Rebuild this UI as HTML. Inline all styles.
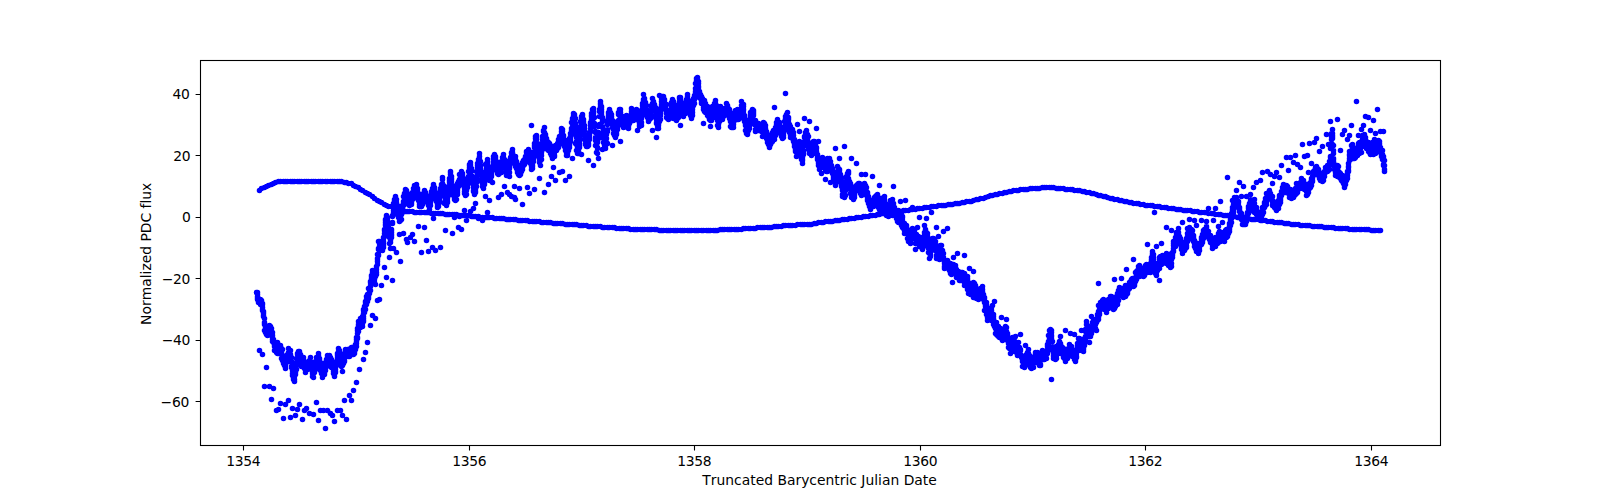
<!DOCTYPE html>
<html><head><meta charset="utf-8"><title>Light curve</title>
<style>html,body{margin:0;padding:0;background:#fff;overflow:hidden}svg{display:block}</style>
</head><body>
<svg width="1600" height="500" viewBox="0 0 1600 500">
<defs><clipPath id="c"><rect x="200.5" y="60.5" width="1240.0" height="385.0"/></clipPath></defs>
<rect x="0" y="0" width="1600" height="500" fill="#fff"/>
<g clip-path="url(#c)"><path d="M256.5 292.5h0M257.5 292.5h0M257.5 294.5h0M257.5 296.5h0M257.5 297.5h0M257.5 298.5h0M257.5 299.5h0M258.5 298.5h0M258.5 300.5h0M258.5 301.5h0M258.5 302.5h0M259.5 190.5h0M259.5 299.5h0M259.5 300.5h0M259.5 301.5h0M259.5 350.5h0M260.5 299.5h0M260.5 300.5h0M260.5 301.5h0M260.5 304.5h0M261.5 188.5h0M261.5 300.5h0M261.5 302.5h0M261.5 303.5h0M261.5 304.5h0M262.5 303.5h0M262.5 304.5h0M262.5 307.5h0M262.5 309.5h0M262.5 310.5h0M262.5 354.5h0M263.5 311.5h0M263.5 312.5h0M263.5 313.5h0M263.5 315.5h0M263.5 316.5h0M264.5 187.5h0M264.5 318.5h0M264.5 322.5h0M264.5 323.5h0M264.5 324.5h0M264.5 330.5h0M264.5 386.5h0M265.5 325.5h0M265.5 326.5h0M265.5 327.5h0M265.5 331.5h0M265.5 332.5h0M266.5 186.5h0M266.5 329.5h0M266.5 331.5h0M266.5 332.5h0M266.5 334.5h0M266.5 367.5h0M267.5 331.5h0M267.5 332.5h0M267.5 333.5h0M267.5 335.5h0M268.5 185.5h0M268.5 328.5h0M268.5 330.5h0M268.5 331.5h0M269.5 325.5h0M269.5 328.5h0M269.5 329.5h0M269.5 330.5h0M269.5 386.5h0M270.5 326.5h0M270.5 329.5h0M270.5 330.5h0M270.5 331.5h0M271.5 184.5h0M271.5 328.5h0M271.5 331.5h0M271.5 332.5h0M271.5 333.5h0M271.5 335.5h0M271.5 399.5h0M272.5 332.5h0M272.5 335.5h0M272.5 337.5h0M272.5 339.5h0M272.5 341.5h0M273.5 183.5h0M273.5 339.5h0M273.5 340.5h0M273.5 341.5h0M273.5 342.5h0M273.5 388.5h0M274.5 343.5h0M274.5 344.5h0M274.5 345.5h0M274.5 346.5h0M274.5 350.5h0M275.5 182.5h0M275.5 343.5h0M275.5 344.5h0M275.5 345.5h0M275.5 348.5h0M275.5 349.5h0M276.5 348.5h0M276.5 349.5h0M276.5 351.5h0M276.5 352.5h0M276.5 410.5h0M277.5 342.5h0M277.5 347.5h0M277.5 349.5h0M277.5 352.5h0M277.5 353.5h0M278.5 181.5h0M278.5 346.5h0M278.5 347.5h0M278.5 349.5h0M278.5 350.5h0M278.5 353.5h0M278.5 409.5h0M279.5 345.5h0M279.5 347.5h0M279.5 348.5h0M279.5 350.5h0M280.5 181.5h0M280.5 345.5h0M280.5 346.5h0M280.5 347.5h0M280.5 351.5h0M280.5 352.5h0M280.5 353.5h0M280.5 403.5h0M281.5 348.5h0M281.5 350.5h0M281.5 352.5h0M281.5 353.5h0M281.5 358.5h0M282.5 349.5h0M282.5 355.5h0M282.5 356.5h0M282.5 360.5h0M283.5 181.5h0M283.5 356.5h0M283.5 360.5h0M283.5 361.5h0M283.5 362.5h0M283.5 363.5h0M283.5 418.5h0M284.5 362.5h0M284.5 363.5h0M284.5 364.5h0M284.5 365.5h0M285.5 181.5h0M285.5 360.5h0M285.5 362.5h0M285.5 363.5h0M285.5 365.5h0M285.5 368.5h0M285.5 404.5h0M286.5 355.5h0M286.5 357.5h0M286.5 362.5h0M287.5 181.5h0M287.5 354.5h0M287.5 355.5h0M287.5 357.5h0M287.5 358.5h0M288.5 348.5h0M288.5 352.5h0M288.5 354.5h0M288.5 357.5h0M288.5 400.5h0M289.5 351.5h0M289.5 353.5h0M289.5 354.5h0M289.5 356.5h0M290.5 181.5h0M290.5 350.5h0M290.5 354.5h0M290.5 355.5h0M290.5 357.5h0M290.5 358.5h0M290.5 417.5h0M291.5 357.5h0M291.5 361.5h0M291.5 362.5h0M291.5 366.5h0M291.5 367.5h0M292.5 181.5h0M292.5 366.5h0M292.5 368.5h0M292.5 369.5h0M292.5 370.5h0M292.5 373.5h0M292.5 375.5h0M292.5 408.5h0M293.5 372.5h0M293.5 373.5h0M293.5 375.5h0M293.5 376.5h0M293.5 377.5h0M293.5 378.5h0M293.5 379.5h0M294.5 181.5h0M294.5 374.5h0M294.5 376.5h0M294.5 379.5h0M294.5 381.5h0M295.5 368.5h0M295.5 370.5h0M295.5 372.5h0M295.5 374.5h0M295.5 415.5h0M296.5 358.5h0M296.5 362.5h0M296.5 364.5h0M296.5 365.5h0M296.5 369.5h0M297.5 181.5h0M297.5 353.5h0M297.5 354.5h0M297.5 358.5h0M297.5 409.5h0M298.5 351.5h0M298.5 352.5h0M298.5 354.5h0M298.5 355.5h0M298.5 356.5h0M298.5 358.5h0M299.5 181.5h0M299.5 351.5h0M299.5 352.5h0M299.5 353.5h0M299.5 357.5h0M299.5 404.5h0M300.5 354.5h0M300.5 356.5h0M300.5 357.5h0M300.5 360.5h0M300.5 361.5h0M301.5 181.5h0M301.5 359.5h0M301.5 360.5h0M301.5 361.5h0M301.5 362.5h0M301.5 363.5h0M301.5 364.5h0M301.5 366.5h0M302.5 363.5h0M302.5 364.5h0M302.5 365.5h0M302.5 366.5h0M302.5 419.5h0M303.5 357.5h0M303.5 359.5h0M303.5 361.5h0M303.5 362.5h0M303.5 364.5h0M303.5 366.5h0M304.5 181.5h0M304.5 361.5h0M304.5 362.5h0M304.5 365.5h0M304.5 367.5h0M304.5 368.5h0M304.5 410.5h0M305.5 362.5h0M305.5 363.5h0M305.5 368.5h0M305.5 372.5h0M306.5 181.5h0M306.5 362.5h0M306.5 364.5h0M306.5 365.5h0M306.5 366.5h0M306.5 368.5h0M306.5 408.5h0M307.5 363.5h0M307.5 364.5h0M307.5 365.5h0M307.5 368.5h0M307.5 369.5h0M308.5 181.5h0M308.5 362.5h0M308.5 364.5h0M308.5 365.5h0M309.5 360.5h0M309.5 361.5h0M309.5 363.5h0M309.5 364.5h0M309.5 413.5h0M310.5 357.5h0M310.5 361.5h0M310.5 362.5h0M310.5 364.5h0M310.5 365.5h0M311.5 181.5h0M311.5 363.5h0M311.5 364.5h0M311.5 365.5h0M311.5 368.5h0M311.5 369.5h0M312.5 366.5h0M312.5 372.5h0M312.5 373.5h0M312.5 376.5h0M313.5 181.5h0M313.5 369.5h0M313.5 371.5h0M313.5 372.5h0M313.5 373.5h0M313.5 377.5h0M313.5 414.5h0M314.5 366.5h0M314.5 367.5h0M314.5 368.5h0M314.5 370.5h0M314.5 372.5h0M315.5 181.5h0M315.5 361.5h0M315.5 363.5h0M315.5 364.5h0M315.5 365.5h0M315.5 366.5h0M316.5 357.5h0M316.5 360.5h0M316.5 361.5h0M316.5 363.5h0M316.5 364.5h0M316.5 402.5h0M317.5 357.5h0M317.5 359.5h0M317.5 361.5h0M318.5 181.5h0M318.5 353.5h0M318.5 355.5h0M318.5 356.5h0M318.5 357.5h0M318.5 358.5h0M318.5 420.5h0M319.5 358.5h0M319.5 359.5h0M319.5 362.5h0M319.5 363.5h0M319.5 364.5h0M319.5 369.5h0M320.5 181.5h0M320.5 362.5h0M320.5 363.5h0M320.5 364.5h0M320.5 366.5h0M320.5 367.5h0M320.5 370.5h0M320.5 410.5h0M321.5 365.5h0M321.5 368.5h0M321.5 370.5h0M321.5 372.5h0M321.5 373.5h0M322.5 181.5h0M322.5 370.5h0M322.5 371.5h0M322.5 372.5h0M322.5 373.5h0M322.5 377.5h0M323.5 366.5h0M323.5 367.5h0M323.5 369.5h0M323.5 370.5h0M323.5 410.5h0M324.5 365.5h0M324.5 366.5h0M324.5 367.5h0M324.5 371.5h0M324.5 373.5h0M324.5 374.5h0M325.5 181.5h0M325.5 362.5h0M325.5 363.5h0M325.5 364.5h0M325.5 367.5h0M325.5 368.5h0M325.5 370.5h0M325.5 428.5h0M326.5 359.5h0M326.5 361.5h0M326.5 362.5h0M326.5 364.5h0M327.5 181.5h0M327.5 355.5h0M327.5 357.5h0M327.5 362.5h0M327.5 363.5h0M327.5 365.5h0M327.5 410.5h0M328.5 358.5h0M328.5 359.5h0M328.5 360.5h0M328.5 362.5h0M328.5 363.5h0M329.5 355.5h0M329.5 358.5h0M329.5 361.5h0M329.5 362.5h0M329.5 363.5h0M330.5 181.5h0M330.5 357.5h0M330.5 358.5h0M330.5 360.5h0M330.5 361.5h0M330.5 365.5h0M330.5 366.5h0M330.5 413.5h0M331.5 359.5h0M331.5 362.5h0M331.5 363.5h0M331.5 364.5h0M331.5 365.5h0M331.5 366.5h0M331.5 367.5h0M332.5 181.5h0M332.5 362.5h0M332.5 364.5h0M332.5 365.5h0M332.5 366.5h0M332.5 367.5h0M332.5 415.5h0M333.5 366.5h0M333.5 367.5h0M333.5 370.5h0M333.5 371.5h0M333.5 373.5h0M334.5 181.5h0M334.5 366.5h0M334.5 368.5h0M334.5 370.5h0M334.5 371.5h0M334.5 374.5h0M334.5 376.5h0M334.5 421.5h0M335.5 365.5h0M335.5 367.5h0M335.5 369.5h0M335.5 371.5h0M335.5 372.5h0M336.5 361.5h0M336.5 363.5h0M336.5 365.5h0M337.5 181.5h0M337.5 353.5h0M337.5 354.5h0M337.5 355.5h0M337.5 357.5h0M337.5 358.5h0M337.5 410.5h0M338.5 348.5h0M338.5 351.5h0M338.5 352.5h0M338.5 355.5h0M338.5 356.5h0M338.5 361.5h0M339.5 181.5h0M339.5 350.5h0M339.5 355.5h0M339.5 356.5h0M339.5 357.5h0M340.5 353.5h0M340.5 356.5h0M340.5 358.5h0M340.5 361.5h0M340.5 410.5h0M341.5 181.5h0M341.5 358.5h0M341.5 360.5h0M341.5 362.5h0M341.5 363.5h0M341.5 364.5h0M341.5 366.5h0M342.5 359.5h0M342.5 360.5h0M342.5 361.5h0M342.5 362.5h0M342.5 365.5h0M342.5 371.5h0M342.5 415.5h0M343.5 355.5h0M343.5 359.5h0M343.5 360.5h0M343.5 363.5h0M344.5 182.5h0M344.5 355.5h0M344.5 356.5h0M344.5 358.5h0M344.5 360.5h0M344.5 361.5h0M344.5 400.5h0M345.5 349.5h0M345.5 351.5h0M345.5 352.5h0M345.5 354.5h0M345.5 355.5h0M346.5 182.5h0M346.5 350.5h0M346.5 351.5h0M346.5 352.5h0M346.5 353.5h0M346.5 354.5h0M346.5 355.5h0M346.5 419.5h0M347.5 349.5h0M347.5 350.5h0M347.5 351.5h0M347.5 352.5h0M347.5 355.5h0M348.5 183.5h0M348.5 351.5h0M348.5 352.5h0M348.5 353.5h0M348.5 354.5h0M348.5 356.5h0M349.5 351.5h0M349.5 353.5h0M349.5 354.5h0M349.5 356.5h0M349.5 395.5h0M350.5 348.5h0M350.5 350.5h0M350.5 351.5h0M350.5 352.5h0M351.5 183.5h0M351.5 347.5h0M351.5 349.5h0M351.5 351.5h0M351.5 352.5h0M351.5 353.5h0M351.5 354.5h0M351.5 400.5h0M352.5 347.5h0M352.5 348.5h0M352.5 349.5h0M352.5 350.5h0M352.5 352.5h0M352.5 354.5h0M353.5 185.5h0M353.5 349.5h0M353.5 351.5h0M353.5 353.5h0M353.5 354.5h0M353.5 390.5h0M354.5 349.5h0M354.5 351.5h0M354.5 352.5h0M354.5 353.5h0M355.5 186.5h0M355.5 344.5h0M355.5 346.5h0M355.5 348.5h0M355.5 349.5h0M356.5 337.5h0M356.5 339.5h0M356.5 341.5h0M356.5 343.5h0M356.5 346.5h0M356.5 382.5h0M357.5 328.5h0M357.5 330.5h0M357.5 333.5h0M357.5 337.5h0M357.5 338.5h0M358.5 187.5h0M358.5 321.5h0M358.5 324.5h0M358.5 325.5h0M358.5 326.5h0M358.5 329.5h0M358.5 331.5h0M359.5 321.5h0M359.5 322.5h0M359.5 323.5h0M359.5 324.5h0M359.5 327.5h0M359.5 369.5h0M360.5 189.5h0M360.5 318.5h0M360.5 321.5h0M360.5 323.5h0M360.5 325.5h0M360.5 327.5h0M361.5 320.5h0M361.5 322.5h0M361.5 323.5h0M362.5 190.5h0M362.5 316.5h0M362.5 318.5h0M362.5 319.5h0M362.5 320.5h0M362.5 323.5h0M362.5 326.5h0M363.5 309.5h0M363.5 310.5h0M363.5 313.5h0M363.5 316.5h0M363.5 318.5h0M363.5 320.5h0M363.5 321.5h0M363.5 359.5h0M364.5 306.5h0M364.5 308.5h0M364.5 309.5h0M364.5 311.5h0M364.5 312.5h0M365.5 192.5h0M365.5 301.5h0M365.5 302.5h0M365.5 304.5h0M365.5 305.5h0M365.5 309.5h0M365.5 352.5h0M366.5 296.5h0M366.5 299.5h0M366.5 300.5h0M366.5 301.5h0M366.5 302.5h0M366.5 303.5h0M366.5 304.5h0M367.5 193.5h0M367.5 294.5h0M367.5 298.5h0M367.5 299.5h0M367.5 300.5h0M367.5 301.5h0M367.5 342.5h0M368.5 288.5h0M368.5 294.5h0M368.5 295.5h0M368.5 296.5h0M368.5 297.5h0M368.5 298.5h0M369.5 194.5h0M369.5 288.5h0M369.5 289.5h0M369.5 290.5h0M369.5 291.5h0M369.5 293.5h0M370.5 281.5h0M370.5 282.5h0M370.5 285.5h0M370.5 286.5h0M370.5 290.5h0M370.5 325.5h0M371.5 275.5h0M371.5 276.5h0M371.5 278.5h0M371.5 279.5h0M371.5 280.5h0M372.5 196.5h0M372.5 270.5h0M372.5 272.5h0M372.5 275.5h0M372.5 276.5h0M372.5 279.5h0M372.5 315.5h0M373.5 276.5h0M373.5 277.5h0M373.5 279.5h0M373.5 280.5h0M373.5 281.5h0M374.5 198.5h0M374.5 275.5h0M374.5 276.5h0M374.5 278.5h0M374.5 279.5h0M374.5 282.5h0M374.5 283.5h0M375.5 272.5h0M375.5 273.5h0M375.5 274.5h0M375.5 276.5h0M375.5 284.5h0M375.5 318.5h0M376.5 266.5h0M376.5 267.5h0M376.5 269.5h0M376.5 272.5h0M376.5 274.5h0M377.5 200.5h0M377.5 254.5h0M377.5 258.5h0M377.5 259.5h0M377.5 261.5h0M377.5 264.5h0M377.5 300.5h0M378.5 241.5h0M378.5 248.5h0M378.5 249.5h0M378.5 254.5h0M378.5 255.5h0M379.5 201.5h0M379.5 241.5h0M379.5 243.5h0M379.5 246.5h0M379.5 248.5h0M379.5 249.5h0M379.5 250.5h0M379.5 299.5h0M380.5 242.5h0M380.5 244.5h0M380.5 245.5h0M380.5 246.5h0M380.5 248.5h0M381.5 202.5h0M381.5 242.5h0M381.5 247.5h0M381.5 248.5h0M381.5 249.5h0M381.5 285.5h0M382.5 244.5h0M382.5 245.5h0M382.5 247.5h0M382.5 248.5h0M382.5 250.5h0M383.5 237.5h0M383.5 238.5h0M383.5 241.5h0M383.5 243.5h0M383.5 245.5h0M383.5 247.5h0M384.5 204.5h0M384.5 229.5h0M384.5 230.5h0M384.5 233.5h0M384.5 267.5h0M385.5 219.5h0M385.5 220.5h0M385.5 222.5h0M385.5 224.5h0M385.5 225.5h0M386.5 205.5h0M386.5 215.5h0M386.5 216.5h0M386.5 217.5h0M386.5 218.5h0M386.5 221.5h0M386.5 277.5h0M387.5 217.5h0M387.5 220.5h0M387.5 223.5h0M387.5 225.5h0M388.5 206.5h0M388.5 227.5h0M388.5 228.5h0M388.5 229.5h0M388.5 232.5h0M388.5 236.5h0M389.5 232.5h0M389.5 236.5h0M389.5 237.5h0M389.5 243.5h0M389.5 257.5h0M390.5 234.5h0M390.5 238.5h0M390.5 239.5h0M390.5 240.5h0M390.5 242.5h0M390.5 248.5h0M391.5 206.5h0M391.5 229.5h0M391.5 230.5h0M391.5 232.5h0M391.5 234.5h0M391.5 235.5h0M391.5 237.5h0M392.5 215.5h0M392.5 216.5h0M392.5 222.5h0M392.5 223.5h0M392.5 280.5h0M393.5 203.5h0M393.5 207.5h0M393.5 208.5h0M393.5 210.5h0M393.5 212.5h0M393.5 213.5h0M393.5 214.5h0M393.5 248.5h0M394.5 199.5h0M394.5 200.5h0M394.5 203.5h0M394.5 205.5h0M395.5 196.5h0M395.5 198.5h0M395.5 199.5h0M395.5 201.5h0M395.5 208.5h0M396.5 199.5h0M396.5 202.5h0M396.5 203.5h0M396.5 204.5h0M396.5 206.5h0M396.5 209.5h0M396.5 252.5h0M397.5 205.5h0M397.5 207.5h0M397.5 208.5h0M397.5 209.5h0M397.5 213.5h0M397.5 214.5h0M398.5 209.5h0M398.5 211.5h0M398.5 213.5h0M398.5 214.5h0M398.5 215.5h0M398.5 217.5h0M399.5 214.5h0M399.5 215.5h0M399.5 216.5h0M399.5 217.5h0M399.5 221.5h0M399.5 234.5h0M400.5 210.5h0M400.5 214.5h0M400.5 216.5h0M400.5 218.5h0M400.5 219.5h0M400.5 220.5h0M400.5 261.5h0M401.5 208.5h0M401.5 210.5h0M401.5 211.5h0M401.5 213.5h0M401.5 214.5h0M401.5 219.5h0M402.5 205.5h0M402.5 206.5h0M402.5 207.5h0M402.5 208.5h0M402.5 211.5h0M402.5 212.5h0M403.5 196.5h0M403.5 201.5h0M403.5 202.5h0M403.5 203.5h0M403.5 205.5h0M403.5 233.5h0M404.5 193.5h0M404.5 194.5h0M404.5 195.5h0M404.5 197.5h0M404.5 198.5h0M404.5 201.5h0M405.5 189.5h0M405.5 191.5h0M405.5 193.5h0M405.5 194.5h0M405.5 211.5h0M406.5 190.5h0M406.5 194.5h0M406.5 195.5h0M406.5 196.5h0M406.5 197.5h0M406.5 198.5h0M406.5 239.5h0M407.5 193.5h0M407.5 194.5h0M407.5 195.5h0M407.5 197.5h0M407.5 199.5h0M407.5 211.5h0M407.5 242.5h0M408.5 195.5h0M408.5 196.5h0M408.5 197.5h0M408.5 200.5h0M408.5 204.5h0M409.5 198.5h0M409.5 199.5h0M409.5 202.5h0M409.5 203.5h0M409.5 205.5h0M409.5 211.5h0M410.5 201.5h0M410.5 202.5h0M410.5 203.5h0M410.5 204.5h0M410.5 237.5h0M411.5 198.5h0M411.5 199.5h0M411.5 202.5h0M411.5 203.5h0M411.5 204.5h0M412.5 192.5h0M412.5 193.5h0M412.5 197.5h0M412.5 198.5h0M412.5 199.5h0M412.5 211.5h0M412.5 234.5h0M413.5 188.5h0M413.5 194.5h0M413.5 195.5h0M413.5 196.5h0M413.5 198.5h0M414.5 185.5h0M414.5 187.5h0M414.5 188.5h0M414.5 189.5h0M414.5 192.5h0M414.5 193.5h0M414.5 194.5h0M414.5 212.5h0M414.5 241.5h0M415.5 185.5h0M415.5 187.5h0M415.5 188.5h0M415.5 189.5h0M416.5 184.5h0M416.5 186.5h0M416.5 187.5h0M416.5 190.5h0M416.5 191.5h0M416.5 194.5h0M416.5 212.5h0M417.5 188.5h0M417.5 189.5h0M417.5 191.5h0M417.5 192.5h0M417.5 193.5h0M417.5 194.5h0M417.5 196.5h0M418.5 193.5h0M418.5 194.5h0M418.5 197.5h0M418.5 198.5h0M418.5 200.5h0M418.5 226.5h0M419.5 199.5h0M419.5 200.5h0M419.5 201.5h0M419.5 202.5h0M419.5 204.5h0M419.5 206.5h0M419.5 212.5h0M420.5 202.5h0M420.5 203.5h0M420.5 204.5h0M420.5 205.5h0M421.5 201.5h0M421.5 205.5h0M421.5 206.5h0M421.5 212.5h0M421.5 252.5h0M422.5 195.5h0M422.5 197.5h0M422.5 198.5h0M422.5 200.5h0M422.5 204.5h0M423.5 193.5h0M423.5 195.5h0M423.5 198.5h0M423.5 199.5h0M424.5 190.5h0M424.5 192.5h0M424.5 193.5h0M424.5 195.5h0M424.5 212.5h0M424.5 227.5h0M425.5 192.5h0M425.5 193.5h0M425.5 194.5h0M425.5 197.5h0M425.5 201.5h0M426.5 195.5h0M426.5 197.5h0M426.5 198.5h0M426.5 199.5h0M426.5 212.5h0M426.5 240.5h0M427.5 196.5h0M427.5 197.5h0M427.5 198.5h0M427.5 199.5h0M427.5 202.5h0M428.5 199.5h0M428.5 200.5h0M428.5 201.5h0M428.5 202.5h0M428.5 203.5h0M428.5 205.5h0M428.5 212.5h0M428.5 251.5h0M429.5 199.5h0M429.5 200.5h0M429.5 201.5h0M429.5 202.5h0M429.5 203.5h0M429.5 209.5h0M430.5 195.5h0M430.5 197.5h0M430.5 198.5h0M430.5 199.5h0M430.5 202.5h0M430.5 205.5h0M431.5 191.5h0M431.5 192.5h0M431.5 193.5h0M431.5 195.5h0M431.5 198.5h0M431.5 199.5h0M431.5 213.5h0M432.5 188.5h0M432.5 190.5h0M432.5 191.5h0M432.5 192.5h0M432.5 195.5h0M432.5 247.5h0M433.5 184.5h0M433.5 185.5h0M433.5 186.5h0M433.5 192.5h0M433.5 213.5h0M433.5 218.5h0M434.5 187.5h0M434.5 189.5h0M434.5 190.5h0M434.5 194.5h0M435.5 192.5h0M435.5 193.5h0M435.5 196.5h0M435.5 213.5h0M435.5 250.5h0M436.5 196.5h0M436.5 197.5h0M436.5 199.5h0M436.5 201.5h0M437.5 202.5h0M437.5 204.5h0M437.5 206.5h0M437.5 207.5h0M438.5 198.5h0M438.5 200.5h0M438.5 202.5h0M438.5 204.5h0M438.5 206.5h0M438.5 213.5h0M439.5 195.5h0M439.5 196.5h0M439.5 198.5h0M439.5 199.5h0M439.5 200.5h0M439.5 202.5h0M440.5 188.5h0M440.5 189.5h0M440.5 190.5h0M440.5 191.5h0M440.5 192.5h0M440.5 194.5h0M440.5 213.5h0M440.5 247.5h0M441.5 184.5h0M441.5 185.5h0M441.5 187.5h0M441.5 190.5h0M441.5 192.5h0M442.5 177.5h0M442.5 179.5h0M442.5 183.5h0M442.5 186.5h0M442.5 187.5h0M442.5 188.5h0M442.5 213.5h0M443.5 185.5h0M443.5 186.5h0M443.5 187.5h0M443.5 188.5h0M443.5 189.5h0M444.5 190.5h0M444.5 191.5h0M444.5 193.5h0M444.5 196.5h0M444.5 202.5h0M444.5 203.5h0M445.5 195.5h0M445.5 197.5h0M445.5 198.5h0M445.5 200.5h0M445.5 203.5h0M445.5 214.5h0M445.5 230.5h0M446.5 200.5h0M446.5 201.5h0M446.5 202.5h0M446.5 204.5h0M446.5 205.5h0M447.5 194.5h0M447.5 196.5h0M447.5 197.5h0M447.5 198.5h0M447.5 201.5h0M447.5 202.5h0M447.5 214.5h0M448.5 186.5h0M448.5 189.5h0M448.5 190.5h0M448.5 193.5h0M448.5 195.5h0M449.5 178.5h0M449.5 180.5h0M449.5 181.5h0M449.5 182.5h0M449.5 214.5h0M450.5 171.5h0M450.5 172.5h0M450.5 174.5h0M450.5 177.5h0M450.5 178.5h0M451.5 176.5h0M451.5 178.5h0M451.5 179.5h0M451.5 181.5h0M451.5 185.5h0M452.5 185.5h0M452.5 186.5h0M452.5 187.5h0M452.5 189.5h0M452.5 190.5h0M452.5 191.5h0M452.5 214.5h0M452.5 233.5h0M453.5 188.5h0M453.5 190.5h0M453.5 191.5h0M453.5 194.5h0M453.5 195.5h0M454.5 193.5h0M454.5 196.5h0M454.5 197.5h0M454.5 198.5h0M454.5 199.5h0M454.5 214.5h0M454.5 217.5h0M455.5 191.5h0M455.5 196.5h0M455.5 197.5h0M455.5 198.5h0M455.5 199.5h0M455.5 200.5h0M456.5 188.5h0M456.5 190.5h0M456.5 191.5h0M456.5 192.5h0M456.5 194.5h0M456.5 199.5h0M456.5 214.5h0M457.5 183.5h0M457.5 186.5h0M457.5 189.5h0M457.5 190.5h0M457.5 192.5h0M457.5 194.5h0M458.5 181.5h0M458.5 183.5h0M458.5 184.5h0M458.5 185.5h0M458.5 186.5h0M458.5 227.5h0M459.5 174.5h0M459.5 179.5h0M459.5 180.5h0M459.5 181.5h0M459.5 182.5h0M459.5 215.5h0M459.5 216.5h0M460.5 174.5h0M460.5 176.5h0M460.5 177.5h0M460.5 178.5h0M460.5 179.5h0M460.5 180.5h0M460.5 181.5h0M461.5 171.5h0M461.5 175.5h0M461.5 176.5h0M461.5 215.5h0M461.5 229.5h0M462.5 173.5h0M462.5 174.5h0M462.5 176.5h0M462.5 180.5h0M462.5 182.5h0M462.5 184.5h0M463.5 178.5h0M463.5 179.5h0M463.5 183.5h0M463.5 184.5h0M463.5 185.5h0M463.5 215.5h0M464.5 186.5h0M464.5 187.5h0M464.5 188.5h0M464.5 191.5h0M464.5 193.5h0M464.5 210.5h0M465.5 187.5h0M465.5 188.5h0M465.5 190.5h0M465.5 192.5h0M465.5 195.5h0M466.5 185.5h0M466.5 186.5h0M466.5 189.5h0M466.5 190.5h0M466.5 194.5h0M466.5 215.5h0M466.5 220.5h0M467.5 179.5h0M467.5 181.5h0M467.5 183.5h0M467.5 185.5h0M467.5 187.5h0M468.5 171.5h0M468.5 176.5h0M468.5 177.5h0M468.5 178.5h0M468.5 215.5h0M469.5 164.5h0M469.5 165.5h0M469.5 167.5h0M469.5 168.5h0M469.5 170.5h0M469.5 172.5h0M470.5 162.5h0M470.5 164.5h0M470.5 165.5h0M470.5 167.5h0M470.5 211.5h0M471.5 168.5h0M471.5 169.5h0M471.5 170.5h0M471.5 171.5h0M471.5 177.5h0M471.5 216.5h0M472.5 176.5h0M472.5 177.5h0M472.5 178.5h0M472.5 181.5h0M472.5 183.5h0M473.5 182.5h0M473.5 183.5h0M473.5 187.5h0M473.5 190.5h0M473.5 191.5h0M473.5 208.5h0M473.5 216.5h0M474.5 189.5h0M474.5 190.5h0M474.5 191.5h0M474.5 192.5h0M474.5 193.5h0M474.5 194.5h0M475.5 185.5h0M475.5 186.5h0M475.5 188.5h0M475.5 189.5h0M475.5 191.5h0M475.5 192.5h0M475.5 203.5h0M475.5 216.5h0M476.5 171.5h0M476.5 178.5h0M476.5 181.5h0M476.5 182.5h0M476.5 186.5h0M477.5 163.5h0M477.5 165.5h0M477.5 167.5h0M477.5 171.5h0M477.5 173.5h0M477.5 175.5h0M478.5 159.5h0M478.5 160.5h0M478.5 161.5h0M478.5 165.5h0M478.5 216.5h0M478.5 218.5h0M479.5 153.5h0M479.5 156.5h0M479.5 159.5h0M479.5 160.5h0M479.5 162.5h0M479.5 165.5h0M480.5 161.5h0M480.5 165.5h0M480.5 168.5h0M480.5 170.5h0M480.5 171.5h0M480.5 217.5h0M481.5 172.5h0M481.5 173.5h0M481.5 174.5h0M481.5 179.5h0M481.5 181.5h0M482.5 176.5h0M482.5 178.5h0M482.5 179.5h0M482.5 181.5h0M482.5 183.5h0M482.5 186.5h0M482.5 217.5h0M482.5 220.5h0M483.5 180.5h0M483.5 183.5h0M483.5 185.5h0M483.5 188.5h0M484.5 174.5h0M484.5 176.5h0M484.5 180.5h0M484.5 182.5h0M484.5 183.5h0M484.5 184.5h0M485.5 164.5h0M485.5 171.5h0M485.5 172.5h0M485.5 173.5h0M485.5 176.5h0M485.5 179.5h0M485.5 196.5h0M485.5 217.5h0M486.5 163.5h0M486.5 165.5h0M486.5 166.5h0M486.5 168.5h0M486.5 170.5h0M487.5 159.5h0M487.5 161.5h0M487.5 162.5h0M487.5 164.5h0M487.5 165.5h0M487.5 212.5h0M487.5 217.5h0M488.5 166.5h0M488.5 168.5h0M488.5 169.5h0M488.5 171.5h0M488.5 172.5h0M489.5 168.5h0M489.5 170.5h0M489.5 174.5h0M489.5 175.5h0M489.5 180.5h0M489.5 200.5h0M489.5 217.5h0M490.5 173.5h0M490.5 174.5h0M490.5 176.5h0M490.5 177.5h0M490.5 179.5h0M491.5 169.5h0M491.5 170.5h0M491.5 171.5h0M491.5 172.5h0M491.5 175.5h0M491.5 176.5h0M492.5 166.5h0M492.5 168.5h0M492.5 170.5h0M492.5 182.5h0M492.5 217.5h0M493.5 156.5h0M493.5 158.5h0M493.5 161.5h0M493.5 162.5h0M493.5 163.5h0M494.5 154.5h0M494.5 158.5h0M494.5 159.5h0M494.5 160.5h0M494.5 162.5h0M494.5 218.5h0M495.5 156.5h0M495.5 157.5h0M495.5 158.5h0M495.5 160.5h0M495.5 161.5h0M496.5 161.5h0M496.5 162.5h0M496.5 163.5h0M496.5 165.5h0M496.5 218.5h0M497.5 163.5h0M497.5 167.5h0M497.5 169.5h0M497.5 171.5h0M497.5 173.5h0M498.5 168.5h0M498.5 170.5h0M498.5 172.5h0M498.5 173.5h0M498.5 174.5h0M498.5 197.5h0M499.5 171.5h0M499.5 172.5h0M499.5 173.5h0M499.5 218.5h0M500.5 163.5h0M500.5 168.5h0M500.5 169.5h0M500.5 171.5h0M501.5 161.5h0M501.5 162.5h0M501.5 163.5h0M501.5 167.5h0M501.5 168.5h0M501.5 172.5h0M501.5 194.5h0M501.5 218.5h0M502.5 157.5h0M502.5 160.5h0M502.5 162.5h0M502.5 163.5h0M503.5 154.5h0M503.5 157.5h0M503.5 159.5h0M503.5 162.5h0M503.5 218.5h0M504.5 159.5h0M504.5 160.5h0M504.5 161.5h0M504.5 162.5h0M504.5 186.5h0M505.5 160.5h0M505.5 162.5h0M505.5 163.5h0M505.5 165.5h0M505.5 166.5h0M506.5 166.5h0M506.5 170.5h0M506.5 171.5h0M506.5 172.5h0M506.5 175.5h0M506.5 219.5h0M507.5 173.5h0M507.5 174.5h0M507.5 175.5h0M507.5 192.5h0M508.5 170.5h0M508.5 171.5h0M508.5 173.5h0M508.5 174.5h0M508.5 175.5h0M508.5 219.5h0M509.5 163.5h0M509.5 166.5h0M509.5 167.5h0M509.5 168.5h0M509.5 172.5h0M509.5 176.5h0M509.5 194.5h0M510.5 157.5h0M510.5 159.5h0M510.5 160.5h0M510.5 161.5h0M510.5 163.5h0M510.5 219.5h0M511.5 152.5h0M511.5 153.5h0M511.5 155.5h0M511.5 156.5h0M511.5 196.5h0M512.5 149.5h0M512.5 152.5h0M512.5 153.5h0M512.5 154.5h0M512.5 155.5h0M512.5 156.5h0M513.5 155.5h0M513.5 156.5h0M513.5 157.5h0M513.5 158.5h0M513.5 219.5h0M514.5 157.5h0M514.5 159.5h0M514.5 160.5h0M514.5 163.5h0M514.5 186.5h0M514.5 197.5h0M515.5 156.5h0M515.5 159.5h0M515.5 160.5h0M515.5 162.5h0M515.5 163.5h0M515.5 166.5h0M515.5 199.5h0M515.5 219.5h0M516.5 161.5h0M516.5 164.5h0M516.5 165.5h0M516.5 166.5h0M516.5 168.5h0M517.5 165.5h0M517.5 166.5h0M517.5 168.5h0M517.5 169.5h0M517.5 171.5h0M517.5 172.5h0M518.5 165.5h0M518.5 171.5h0M518.5 173.5h0M518.5 174.5h0M518.5 220.5h0M519.5 170.5h0M519.5 171.5h0M519.5 173.5h0M519.5 175.5h0M519.5 188.5h0M520.5 169.5h0M520.5 170.5h0M520.5 171.5h0M520.5 172.5h0M520.5 173.5h0M520.5 174.5h0M520.5 220.5h0M521.5 164.5h0M521.5 165.5h0M521.5 166.5h0M521.5 168.5h0M521.5 169.5h0M521.5 171.5h0M522.5 162.5h0M522.5 163.5h0M522.5 165.5h0M522.5 167.5h0M522.5 169.5h0M522.5 204.5h0M522.5 220.5h0M523.5 160.5h0M523.5 162.5h0M523.5 163.5h0M523.5 165.5h0M524.5 159.5h0M524.5 160.5h0M524.5 162.5h0M524.5 164.5h0M525.5 156.5h0M525.5 157.5h0M525.5 158.5h0M525.5 161.5h0M525.5 162.5h0M525.5 220.5h0M526.5 151.5h0M526.5 152.5h0M526.5 155.5h0M526.5 158.5h0M526.5 161.5h0M527.5 151.5h0M527.5 152.5h0M527.5 153.5h0M527.5 156.5h0M527.5 187.5h0M527.5 220.5h0M528.5 149.5h0M528.5 151.5h0M528.5 152.5h0M528.5 153.5h0M529.5 151.5h0M529.5 154.5h0M529.5 155.5h0M529.5 157.5h0M529.5 158.5h0M529.5 193.5h0M529.5 221.5h0M530.5 157.5h0M530.5 159.5h0M530.5 160.5h0M530.5 161.5h0M530.5 162.5h0M530.5 163.5h0M531.5 125.5h0M531.5 163.5h0M531.5 164.5h0M531.5 166.5h0M531.5 169.5h0M532.5 162.5h0M532.5 163.5h0M532.5 165.5h0M532.5 166.5h0M532.5 168.5h0M532.5 221.5h0M533.5 152.5h0M533.5 154.5h0M533.5 155.5h0M533.5 157.5h0M533.5 158.5h0M533.5 161.5h0M534.5 143.5h0M534.5 145.5h0M534.5 146.5h0M534.5 147.5h0M534.5 151.5h0M534.5 153.5h0M534.5 189.5h0M534.5 221.5h0M535.5 136.5h0M535.5 138.5h0M535.5 141.5h0M535.5 142.5h0M535.5 144.5h0M536.5 135.5h0M536.5 137.5h0M536.5 138.5h0M536.5 139.5h0M536.5 143.5h0M536.5 144.5h0M536.5 221.5h0M537.5 143.5h0M537.5 144.5h0M537.5 145.5h0M537.5 146.5h0M537.5 150.5h0M538.5 145.5h0M538.5 148.5h0M538.5 151.5h0M538.5 154.5h0M538.5 156.5h0M539.5 153.5h0M539.5 157.5h0M539.5 158.5h0M539.5 159.5h0M539.5 162.5h0M539.5 178.5h0M539.5 221.5h0M540.5 155.5h0M540.5 157.5h0M540.5 158.5h0M540.5 159.5h0M540.5 160.5h0M540.5 165.5h0M541.5 145.5h0M541.5 150.5h0M541.5 151.5h0M541.5 152.5h0M541.5 155.5h0M541.5 159.5h0M541.5 222.5h0M542.5 136.5h0M542.5 139.5h0M542.5 142.5h0M542.5 143.5h0M542.5 144.5h0M542.5 146.5h0M542.5 149.5h0M543.5 130.5h0M543.5 131.5h0M543.5 137.5h0M543.5 139.5h0M543.5 222.5h0M544.5 127.5h0M544.5 132.5h0M544.5 133.5h0M544.5 134.5h0M544.5 136.5h0M544.5 192.5h0M545.5 134.5h0M545.5 135.5h0M545.5 136.5h0M545.5 138.5h0M545.5 139.5h0M545.5 142.5h0M546.5 138.5h0M546.5 141.5h0M546.5 146.5h0M546.5 222.5h0M547.5 141.5h0M547.5 143.5h0M547.5 145.5h0M547.5 146.5h0M547.5 148.5h0M547.5 149.5h0M548.5 142.5h0M548.5 144.5h0M548.5 145.5h0M548.5 150.5h0M548.5 184.5h0M548.5 222.5h0M549.5 143.5h0M549.5 144.5h0M549.5 145.5h0M549.5 148.5h0M549.5 150.5h0M550.5 145.5h0M550.5 146.5h0M550.5 147.5h0M550.5 148.5h0M550.5 150.5h0M550.5 153.5h0M550.5 222.5h0M551.5 147.5h0M551.5 148.5h0M551.5 150.5h0M551.5 152.5h0M551.5 155.5h0M551.5 176.5h0M552.5 150.5h0M552.5 151.5h0M552.5 152.5h0M552.5 153.5h0M552.5 158.5h0M553.5 148.5h0M553.5 149.5h0M553.5 150.5h0M553.5 152.5h0M553.5 154.5h0M553.5 167.5h0M553.5 223.5h0M554.5 149.5h0M554.5 150.5h0M554.5 152.5h0M554.5 155.5h0M554.5 156.5h0M555.5 145.5h0M555.5 146.5h0M555.5 147.5h0M555.5 148.5h0M555.5 149.5h0M555.5 150.5h0M555.5 180.5h0M555.5 223.5h0M556.5 146.5h0M556.5 147.5h0M556.5 149.5h0M556.5 150.5h0M557.5 143.5h0M557.5 145.5h0M557.5 147.5h0M557.5 148.5h0M557.5 223.5h0M558.5 139.5h0M558.5 141.5h0M558.5 143.5h0M558.5 144.5h0M558.5 145.5h0M558.5 147.5h0M559.5 136.5h0M559.5 137.5h0M559.5 143.5h0M559.5 144.5h0M559.5 172.5h0M560.5 136.5h0M560.5 137.5h0M560.5 138.5h0M560.5 139.5h0M560.5 223.5h0M561.5 128.5h0M561.5 131.5h0M561.5 133.5h0M561.5 134.5h0M561.5 135.5h0M561.5 142.5h0M562.5 129.5h0M562.5 131.5h0M562.5 134.5h0M562.5 138.5h0M562.5 171.5h0M562.5 223.5h0M563.5 135.5h0M563.5 136.5h0M563.5 137.5h0M563.5 138.5h0M563.5 142.5h0M563.5 143.5h0M564.5 140.5h0M564.5 141.5h0M564.5 142.5h0M564.5 143.5h0M564.5 145.5h0M564.5 146.5h0M565.5 140.5h0M565.5 142.5h0M565.5 144.5h0M565.5 146.5h0M565.5 148.5h0M565.5 150.5h0M565.5 180.5h0M565.5 224.5h0M566.5 145.5h0M566.5 146.5h0M566.5 148.5h0M566.5 149.5h0M566.5 152.5h0M566.5 155.5h0M567.5 147.5h0M567.5 148.5h0M567.5 150.5h0M567.5 153.5h0M567.5 155.5h0M567.5 224.5h0M568.5 141.5h0M568.5 143.5h0M568.5 146.5h0M568.5 149.5h0M568.5 150.5h0M569.5 138.5h0M569.5 141.5h0M569.5 143.5h0M569.5 144.5h0M569.5 145.5h0M569.5 147.5h0M569.5 176.5h0M569.5 224.5h0M570.5 133.5h0M570.5 136.5h0M570.5 137.5h0M570.5 139.5h0M570.5 141.5h0M571.5 122.5h0M571.5 128.5h0M571.5 130.5h0M571.5 132.5h0M571.5 134.5h0M572.5 118.5h0M572.5 119.5h0M572.5 120.5h0M572.5 122.5h0M572.5 123.5h0M572.5 126.5h0M572.5 158.5h0M572.5 224.5h0M573.5 113.5h0M573.5 115.5h0M573.5 116.5h0M573.5 117.5h0M573.5 118.5h0M574.5 114.5h0M574.5 115.5h0M574.5 117.5h0M574.5 118.5h0M574.5 120.5h0M574.5 122.5h0M574.5 224.5h0M575.5 118.5h0M575.5 123.5h0M575.5 126.5h0M575.5 128.5h0M575.5 131.5h0M575.5 134.5h0M575.5 143.5h0M576.5 126.5h0M576.5 132.5h0M576.5 136.5h0M576.5 137.5h0M576.5 141.5h0M576.5 144.5h0M576.5 150.5h0M576.5 224.5h0M577.5 144.5h0M577.5 146.5h0M577.5 147.5h0M577.5 148.5h0M577.5 151.5h0M577.5 153.5h0M578.5 142.5h0M578.5 147.5h0M578.5 148.5h0M578.5 149.5h0M578.5 151.5h0M578.5 153.5h0M579.5 136.5h0M579.5 139.5h0M579.5 140.5h0M579.5 143.5h0M579.5 145.5h0M579.5 146.5h0M579.5 147.5h0M579.5 225.5h0M580.5 121.5h0M580.5 128.5h0M580.5 130.5h0M580.5 131.5h0M580.5 133.5h0M580.5 139.5h0M581.5 116.5h0M581.5 117.5h0M581.5 121.5h0M581.5 123.5h0M581.5 125.5h0M581.5 154.5h0M581.5 225.5h0M582.5 114.5h0M582.5 115.5h0M582.5 117.5h0M582.5 118.5h0M583.5 119.5h0M583.5 121.5h0M583.5 122.5h0M583.5 128.5h0M583.5 225.5h0M584.5 125.5h0M584.5 128.5h0M584.5 130.5h0M584.5 134.5h0M584.5 135.5h0M585.5 136.5h0M585.5 138.5h0M585.5 140.5h0M585.5 143.5h0M585.5 144.5h0M586.5 141.5h0M586.5 143.5h0M586.5 144.5h0M586.5 146.5h0M586.5 225.5h0M587.5 141.5h0M587.5 144.5h0M587.5 145.5h0M587.5 146.5h0M588.5 136.5h0M588.5 138.5h0M588.5 140.5h0M588.5 143.5h0M588.5 144.5h0M588.5 145.5h0M588.5 160.5h0M588.5 226.5h0M589.5 132.5h0M589.5 134.5h0M589.5 135.5h0M589.5 138.5h0M589.5 139.5h0M590.5 122.5h0M590.5 123.5h0M590.5 125.5h0M590.5 128.5h0M590.5 131.5h0M590.5 226.5h0M591.5 113.5h0M591.5 115.5h0M591.5 116.5h0M591.5 119.5h0M592.5 109.5h0M592.5 112.5h0M592.5 113.5h0M593.5 108.5h0M593.5 111.5h0M593.5 112.5h0M593.5 113.5h0M593.5 116.5h0M593.5 118.5h0M593.5 165.5h0M593.5 226.5h0M594.5 117.5h0M594.5 123.5h0M594.5 125.5h0M594.5 126.5h0M594.5 131.5h0M595.5 131.5h0M595.5 132.5h0M595.5 137.5h0M595.5 140.5h0M595.5 145.5h0M595.5 226.5h0M596.5 143.5h0M596.5 144.5h0M596.5 145.5h0M596.5 152.5h0M597.5 141.5h0M597.5 142.5h0M597.5 147.5h0M597.5 148.5h0M597.5 153.5h0M597.5 226.5h0M598.5 126.5h0M598.5 132.5h0M598.5 133.5h0M598.5 134.5h0M598.5 137.5h0M598.5 138.5h0M598.5 158.5h0M599.5 109.5h0M599.5 111.5h0M599.5 116.5h0M599.5 124.5h0M599.5 125.5h0M600.5 101.5h0M600.5 103.5h0M600.5 104.5h0M600.5 106.5h0M600.5 107.5h0M600.5 108.5h0M600.5 226.5h0M601.5 106.5h0M601.5 107.5h0M601.5 109.5h0M601.5 111.5h0M601.5 112.5h0M601.5 114.5h0M602.5 117.5h0M602.5 118.5h0M602.5 119.5h0M602.5 121.5h0M602.5 126.5h0M602.5 127.5h0M602.5 149.5h0M602.5 227.5h0M603.5 131.5h0M603.5 134.5h0M603.5 136.5h0M603.5 138.5h0M603.5 142.5h0M604.5 139.5h0M604.5 142.5h0M604.5 143.5h0M604.5 144.5h0M604.5 145.5h0M604.5 227.5h0M605.5 141.5h0M605.5 143.5h0M605.5 144.5h0M605.5 146.5h0M605.5 148.5h0M606.5 130.5h0M606.5 131.5h0M606.5 134.5h0M606.5 138.5h0M606.5 142.5h0M607.5 120.5h0M607.5 123.5h0M607.5 124.5h0M607.5 129.5h0M607.5 131.5h0M607.5 143.5h0M607.5 227.5h0M608.5 112.5h0M608.5 113.5h0M608.5 115.5h0M608.5 116.5h0M608.5 117.5h0M609.5 109.5h0M609.5 111.5h0M609.5 112.5h0M609.5 227.5h0M610.5 112.5h0M610.5 113.5h0M610.5 114.5h0M610.5 115.5h0M611.5 114.5h0M611.5 116.5h0M611.5 118.5h0M611.5 119.5h0M611.5 121.5h0M612.5 120.5h0M612.5 123.5h0M612.5 124.5h0M612.5 127.5h0M612.5 145.5h0M612.5 227.5h0M613.5 124.5h0M613.5 126.5h0M613.5 129.5h0M613.5 133.5h0M614.5 129.5h0M614.5 130.5h0M614.5 131.5h0M614.5 132.5h0M614.5 133.5h0M614.5 135.5h0M614.5 227.5h0M615.5 133.5h0M615.5 134.5h0M615.5 136.5h0M615.5 137.5h0M616.5 128.5h0M616.5 129.5h0M616.5 130.5h0M616.5 131.5h0M616.5 133.5h0M616.5 134.5h0M616.5 228.5h0M617.5 121.5h0M617.5 122.5h0M617.5 123.5h0M617.5 124.5h0M617.5 126.5h0M617.5 129.5h0M618.5 112.5h0M618.5 113.5h0M618.5 114.5h0M618.5 120.5h0M618.5 123.5h0M619.5 109.5h0M619.5 112.5h0M619.5 113.5h0M619.5 115.5h0M619.5 228.5h0M620.5 109.5h0M620.5 112.5h0M620.5 113.5h0M620.5 114.5h0M620.5 118.5h0M620.5 141.5h0M621.5 116.5h0M621.5 118.5h0M621.5 120.5h0M621.5 121.5h0M621.5 122.5h0M621.5 228.5h0M622.5 119.5h0M622.5 120.5h0M622.5 121.5h0M622.5 122.5h0M622.5 125.5h0M623.5 119.5h0M623.5 120.5h0M623.5 122.5h0M623.5 124.5h0M623.5 127.5h0M623.5 228.5h0M624.5 116.5h0M624.5 118.5h0M624.5 119.5h0M624.5 120.5h0M625.5 117.5h0M625.5 119.5h0M625.5 120.5h0M625.5 121.5h0M626.5 115.5h0M626.5 119.5h0M626.5 120.5h0M626.5 122.5h0M626.5 124.5h0M626.5 228.5h0M627.5 122.5h0M627.5 123.5h0M627.5 127.5h0M628.5 121.5h0M628.5 123.5h0M628.5 125.5h0M628.5 126.5h0M628.5 128.5h0M628.5 228.5h0M629.5 116.5h0M629.5 119.5h0M629.5 120.5h0M629.5 121.5h0M629.5 123.5h0M630.5 115.5h0M630.5 117.5h0M630.5 119.5h0M630.5 121.5h0M630.5 229.5h0M631.5 108.5h0M631.5 111.5h0M631.5 113.5h0M631.5 114.5h0M631.5 115.5h0M632.5 110.5h0M632.5 111.5h0M632.5 112.5h0M632.5 115.5h0M632.5 116.5h0M632.5 118.5h0M633.5 111.5h0M633.5 114.5h0M633.5 116.5h0M633.5 118.5h0M633.5 120.5h0M633.5 229.5h0M634.5 112.5h0M634.5 117.5h0M634.5 118.5h0M634.5 119.5h0M635.5 110.5h0M635.5 114.5h0M635.5 116.5h0M635.5 118.5h0M635.5 229.5h0M636.5 109.5h0M636.5 110.5h0M636.5 111.5h0M636.5 114.5h0M636.5 115.5h0M637.5 110.5h0M637.5 113.5h0M637.5 114.5h0M637.5 115.5h0M637.5 117.5h0M637.5 130.5h0M637.5 229.5h0M638.5 111.5h0M638.5 112.5h0M638.5 116.5h0M638.5 117.5h0M638.5 118.5h0M638.5 120.5h0M639.5 116.5h0M639.5 119.5h0M639.5 121.5h0M639.5 122.5h0M639.5 123.5h0M639.5 125.5h0M639.5 126.5h0M640.5 119.5h0M640.5 121.5h0M640.5 122.5h0M640.5 123.5h0M640.5 124.5h0M640.5 229.5h0M641.5 113.5h0M641.5 117.5h0M641.5 118.5h0M641.5 122.5h0M641.5 125.5h0M642.5 103.5h0M642.5 105.5h0M642.5 108.5h0M642.5 110.5h0M642.5 111.5h0M642.5 229.5h0M643.5 94.5h0M643.5 99.5h0M643.5 100.5h0M643.5 101.5h0M643.5 102.5h0M644.5 98.5h0M644.5 100.5h0M644.5 102.5h0M644.5 105.5h0M644.5 229.5h0M645.5 102.5h0M645.5 103.5h0M645.5 104.5h0M645.5 106.5h0M645.5 113.5h0M646.5 105.5h0M646.5 109.5h0M646.5 111.5h0M646.5 113.5h0M646.5 114.5h0M646.5 115.5h0M647.5 113.5h0M647.5 115.5h0M647.5 116.5h0M647.5 117.5h0M647.5 229.5h0M648.5 112.5h0M648.5 118.5h0M648.5 119.5h0M648.5 120.5h0M648.5 121.5h0M649.5 114.5h0M649.5 117.5h0M649.5 118.5h0M649.5 119.5h0M649.5 229.5h0M650.5 111.5h0M650.5 114.5h0M650.5 115.5h0M650.5 117.5h0M650.5 118.5h0M651.5 105.5h0M651.5 106.5h0M651.5 109.5h0M651.5 110.5h0M651.5 229.5h0M652.5 98.5h0M652.5 103.5h0M652.5 104.5h0M652.5 105.5h0M652.5 106.5h0M652.5 130.5h0M653.5 101.5h0M653.5 102.5h0M653.5 103.5h0M653.5 104.5h0M653.5 108.5h0M654.5 104.5h0M654.5 105.5h0M654.5 106.5h0M654.5 109.5h0M654.5 110.5h0M654.5 229.5h0M655.5 107.5h0M655.5 108.5h0M655.5 111.5h0M655.5 114.5h0M655.5 116.5h0M655.5 117.5h0M656.5 117.5h0M656.5 118.5h0M656.5 119.5h0M656.5 122.5h0M656.5 123.5h0M656.5 137.5h0M656.5 229.5h0M657.5 121.5h0M657.5 122.5h0M657.5 123.5h0M657.5 124.5h0M657.5 125.5h0M657.5 128.5h0M658.5 119.5h0M658.5 124.5h0M658.5 125.5h0M658.5 128.5h0M659.5 95.5h0M659.5 111.5h0M659.5 114.5h0M659.5 119.5h0M659.5 120.5h0M659.5 121.5h0M659.5 230.5h0M660.5 108.5h0M660.5 110.5h0M660.5 111.5h0M660.5 113.5h0M660.5 115.5h0M660.5 119.5h0M661.5 98.5h0M661.5 101.5h0M661.5 104.5h0M661.5 105.5h0M661.5 106.5h0M661.5 107.5h0M661.5 109.5h0M661.5 230.5h0M662.5 96.5h0M662.5 97.5h0M662.5 99.5h0M662.5 101.5h0M662.5 104.5h0M663.5 96.5h0M663.5 100.5h0M663.5 101.5h0M663.5 102.5h0M663.5 104.5h0M663.5 105.5h0M663.5 230.5h0M664.5 99.5h0M664.5 100.5h0M664.5 101.5h0M664.5 106.5h0M665.5 104.5h0M665.5 105.5h0M665.5 107.5h0M666.5 104.5h0M666.5 110.5h0M666.5 111.5h0M666.5 112.5h0M666.5 113.5h0M666.5 117.5h0M666.5 230.5h0M667.5 110.5h0M667.5 112.5h0M667.5 114.5h0M667.5 117.5h0M667.5 118.5h0M668.5 113.5h0M668.5 114.5h0M668.5 116.5h0M668.5 117.5h0M668.5 119.5h0M668.5 230.5h0M669.5 111.5h0M669.5 112.5h0M669.5 114.5h0M669.5 117.5h0M669.5 118.5h0M670.5 110.5h0M670.5 111.5h0M670.5 112.5h0M670.5 113.5h0M670.5 114.5h0M670.5 115.5h0M670.5 230.5h0M671.5 102.5h0M671.5 104.5h0M671.5 106.5h0M671.5 107.5h0M671.5 108.5h0M672.5 99.5h0M672.5 100.5h0M672.5 101.5h0M673.5 101.5h0M673.5 103.5h0M673.5 104.5h0M673.5 105.5h0M673.5 118.5h0M673.5 230.5h0M674.5 104.5h0M674.5 105.5h0M674.5 106.5h0M674.5 112.5h0M674.5 115.5h0M675.5 111.5h0M675.5 114.5h0M675.5 115.5h0M675.5 116.5h0M675.5 117.5h0M675.5 230.5h0M676.5 112.5h0M676.5 113.5h0M676.5 118.5h0M676.5 119.5h0M676.5 120.5h0M677.5 112.5h0M677.5 113.5h0M677.5 115.5h0M677.5 117.5h0M677.5 118.5h0M677.5 230.5h0M678.5 107.5h0M678.5 108.5h0M678.5 115.5h0M678.5 117.5h0M679.5 97.5h0M679.5 98.5h0M679.5 101.5h0M679.5 103.5h0M679.5 105.5h0M679.5 108.5h0M680.5 97.5h0M680.5 99.5h0M680.5 100.5h0M680.5 101.5h0M680.5 102.5h0M680.5 103.5h0M680.5 125.5h0M680.5 230.5h0M681.5 102.5h0M681.5 104.5h0M681.5 105.5h0M681.5 106.5h0M682.5 104.5h0M682.5 106.5h0M682.5 107.5h0M682.5 110.5h0M682.5 111.5h0M682.5 114.5h0M682.5 230.5h0M683.5 109.5h0M683.5 112.5h0M683.5 113.5h0M683.5 116.5h0M684.5 107.5h0M684.5 108.5h0M684.5 111.5h0M684.5 112.5h0M684.5 230.5h0M685.5 104.5h0M685.5 105.5h0M685.5 109.5h0M685.5 110.5h0M685.5 112.5h0M685.5 113.5h0M686.5 99.5h0M686.5 100.5h0M686.5 104.5h0M686.5 105.5h0M687.5 94.5h0M687.5 96.5h0M687.5 99.5h0M687.5 100.5h0M687.5 101.5h0M687.5 105.5h0M687.5 230.5h0M688.5 100.5h0M688.5 101.5h0M688.5 102.5h0M688.5 103.5h0M688.5 105.5h0M689.5 103.5h0M689.5 105.5h0M689.5 109.5h0M689.5 110.5h0M689.5 111.5h0M689.5 230.5h0M690.5 106.5h0M690.5 108.5h0M690.5 113.5h0M690.5 115.5h0M691.5 110.5h0M691.5 111.5h0M691.5 113.5h0M691.5 114.5h0M691.5 117.5h0M691.5 118.5h0M691.5 230.5h0M692.5 107.5h0M692.5 109.5h0M692.5 112.5h0M692.5 115.5h0M693.5 98.5h0M693.5 100.5h0M693.5 102.5h0M693.5 103.5h0M693.5 105.5h0M694.5 95.5h0M694.5 98.5h0M694.5 99.5h0M694.5 103.5h0M694.5 230.5h0M695.5 83.5h0M695.5 88.5h0M695.5 91.5h0M695.5 92.5h0M695.5 94.5h0M695.5 97.5h0M696.5 78.5h0M696.5 80.5h0M696.5 81.5h0M696.5 84.5h0M696.5 86.5h0M696.5 88.5h0M696.5 90.5h0M696.5 230.5h0M697.5 77.5h0M697.5 79.5h0M697.5 80.5h0M697.5 82.5h0M697.5 83.5h0M698.5 81.5h0M698.5 83.5h0M698.5 86.5h0M698.5 87.5h0M698.5 89.5h0M698.5 230.5h0M699.5 91.5h0M699.5 93.5h0M699.5 94.5h0M699.5 96.5h0M699.5 97.5h0M700.5 94.5h0M700.5 95.5h0M700.5 97.5h0M700.5 98.5h0M701.5 96.5h0M701.5 99.5h0M701.5 100.5h0M701.5 102.5h0M701.5 103.5h0M701.5 230.5h0M702.5 98.5h0M702.5 100.5h0M702.5 102.5h0M702.5 103.5h0M703.5 103.5h0M703.5 104.5h0M703.5 105.5h0M703.5 107.5h0M703.5 109.5h0M703.5 123.5h0M703.5 230.5h0M704.5 100.5h0M704.5 101.5h0M704.5 106.5h0M704.5 108.5h0M704.5 109.5h0M704.5 111.5h0M705.5 103.5h0M705.5 107.5h0M705.5 108.5h0M705.5 112.5h0M706.5 106.5h0M706.5 108.5h0M706.5 109.5h0M706.5 111.5h0M706.5 230.5h0M707.5 106.5h0M707.5 107.5h0M707.5 111.5h0M707.5 113.5h0M707.5 115.5h0M708.5 113.5h0M708.5 114.5h0M708.5 115.5h0M708.5 116.5h0M708.5 230.5h0M709.5 115.5h0M709.5 117.5h0M709.5 118.5h0M709.5 119.5h0M710.5 114.5h0M710.5 116.5h0M710.5 117.5h0M710.5 120.5h0M710.5 126.5h0M710.5 230.5h0M711.5 110.5h0M711.5 115.5h0M711.5 117.5h0M711.5 119.5h0M711.5 120.5h0M712.5 106.5h0M712.5 109.5h0M712.5 111.5h0M712.5 112.5h0M712.5 113.5h0M712.5 116.5h0M713.5 107.5h0M713.5 108.5h0M713.5 110.5h0M713.5 117.5h0M713.5 230.5h0M714.5 103.5h0M714.5 104.5h0M714.5 105.5h0M714.5 106.5h0M714.5 108.5h0M715.5 100.5h0M715.5 103.5h0M715.5 104.5h0M715.5 106.5h0M715.5 107.5h0M715.5 111.5h0M715.5 230.5h0M716.5 105.5h0M716.5 107.5h0M716.5 108.5h0M716.5 109.5h0M716.5 110.5h0M716.5 114.5h0M717.5 114.5h0M717.5 115.5h0M717.5 117.5h0M717.5 120.5h0M717.5 125.5h0M717.5 230.5h0M718.5 118.5h0M718.5 120.5h0M718.5 121.5h0M718.5 122.5h0M718.5 123.5h0M718.5 124.5h0M718.5 127.5h0M719.5 118.5h0M719.5 120.5h0M719.5 121.5h0M720.5 106.5h0M720.5 114.5h0M720.5 115.5h0M720.5 116.5h0M720.5 118.5h0M720.5 119.5h0M720.5 229.5h0M721.5 110.5h0M721.5 111.5h0M721.5 112.5h0M721.5 113.5h0M722.5 112.5h0M722.5 113.5h0M722.5 114.5h0M722.5 119.5h0M722.5 229.5h0M723.5 111.5h0M723.5 113.5h0M723.5 114.5h0M723.5 115.5h0M723.5 116.5h0M724.5 108.5h0M724.5 110.5h0M724.5 111.5h0M724.5 113.5h0M724.5 114.5h0M724.5 115.5h0M724.5 229.5h0M725.5 109.5h0M725.5 110.5h0M725.5 111.5h0M725.5 113.5h0M725.5 114.5h0M726.5 103.5h0M726.5 109.5h0M726.5 110.5h0M726.5 112.5h0M726.5 114.5h0M727.5 105.5h0M727.5 107.5h0M727.5 108.5h0M727.5 111.5h0M727.5 229.5h0M728.5 108.5h0M728.5 109.5h0M728.5 112.5h0M728.5 113.5h0M728.5 115.5h0M729.5 109.5h0M729.5 112.5h0M729.5 113.5h0M729.5 116.5h0M729.5 118.5h0M729.5 229.5h0M730.5 116.5h0M730.5 117.5h0M730.5 119.5h0M730.5 121.5h0M730.5 126.5h0M731.5 120.5h0M731.5 121.5h0M731.5 123.5h0M731.5 124.5h0M731.5 125.5h0M731.5 126.5h0M731.5 127.5h0M731.5 229.5h0M732.5 117.5h0M732.5 120.5h0M732.5 123.5h0M732.5 124.5h0M732.5 125.5h0M733.5 117.5h0M733.5 121.5h0M733.5 122.5h0M733.5 124.5h0M733.5 127.5h0M734.5 112.5h0M734.5 113.5h0M734.5 116.5h0M734.5 117.5h0M734.5 118.5h0M734.5 120.5h0M734.5 229.5h0M735.5 110.5h0M735.5 112.5h0M735.5 113.5h0M736.5 110.5h0M736.5 111.5h0M736.5 112.5h0M736.5 113.5h0M736.5 114.5h0M736.5 229.5h0M737.5 109.5h0M737.5 110.5h0M737.5 111.5h0M737.5 114.5h0M737.5 116.5h0M737.5 119.5h0M738.5 111.5h0M738.5 112.5h0M738.5 113.5h0M738.5 114.5h0M738.5 117.5h0M738.5 119.5h0M738.5 229.5h0M739.5 112.5h0M739.5 113.5h0M739.5 116.5h0M739.5 117.5h0M739.5 118.5h0M740.5 111.5h0M740.5 112.5h0M740.5 113.5h0M740.5 114.5h0M741.5 101.5h0M741.5 105.5h0M741.5 110.5h0M741.5 111.5h0M741.5 113.5h0M741.5 116.5h0M741.5 229.5h0M742.5 106.5h0M742.5 107.5h0M742.5 108.5h0M742.5 109.5h0M742.5 110.5h0M742.5 113.5h0M743.5 104.5h0M743.5 106.5h0M743.5 109.5h0M743.5 110.5h0M743.5 113.5h0M743.5 115.5h0M743.5 228.5h0M744.5 115.5h0M744.5 116.5h0M744.5 118.5h0M744.5 120.5h0M744.5 121.5h0M745.5 119.5h0M745.5 121.5h0M745.5 122.5h0M745.5 124.5h0M745.5 125.5h0M745.5 130.5h0M745.5 228.5h0M746.5 125.5h0M746.5 128.5h0M746.5 129.5h0M746.5 130.5h0M746.5 133.5h0M747.5 123.5h0M747.5 128.5h0M747.5 129.5h0M747.5 132.5h0M747.5 133.5h0M747.5 134.5h0M748.5 125.5h0M748.5 128.5h0M748.5 129.5h0M748.5 130.5h0M748.5 228.5h0M749.5 121.5h0M749.5 123.5h0M749.5 125.5h0M749.5 128.5h0M750.5 112.5h0M750.5 114.5h0M750.5 115.5h0M750.5 116.5h0M750.5 118.5h0M750.5 120.5h0M750.5 228.5h0M751.5 111.5h0M751.5 113.5h0M751.5 114.5h0M751.5 116.5h0M752.5 109.5h0M752.5 110.5h0M752.5 111.5h0M752.5 113.5h0M753.5 110.5h0M753.5 111.5h0M753.5 112.5h0M753.5 113.5h0M753.5 114.5h0M753.5 115.5h0M753.5 228.5h0M754.5 120.5h0M754.5 121.5h0M754.5 122.5h0M754.5 123.5h0M754.5 124.5h0M755.5 120.5h0M755.5 123.5h0M755.5 124.5h0M755.5 129.5h0M755.5 131.5h0M755.5 228.5h0M756.5 124.5h0M756.5 125.5h0M756.5 126.5h0M756.5 127.5h0M756.5 129.5h0M757.5 126.5h0M757.5 128.5h0M757.5 130.5h0M757.5 227.5h0M758.5 123.5h0M758.5 125.5h0M758.5 128.5h0M758.5 130.5h0M759.5 125.5h0M759.5 126.5h0M759.5 128.5h0M759.5 129.5h0M760.5 124.5h0M760.5 127.5h0M760.5 128.5h0M760.5 227.5h0M761.5 124.5h0M761.5 125.5h0M761.5 126.5h0M761.5 127.5h0M761.5 129.5h0M761.5 131.5h0M762.5 124.5h0M762.5 125.5h0M762.5 126.5h0M762.5 129.5h0M762.5 136.5h0M762.5 227.5h0M763.5 122.5h0M763.5 124.5h0M763.5 128.5h0M763.5 129.5h0M763.5 130.5h0M763.5 131.5h0M764.5 123.5h0M764.5 124.5h0M764.5 125.5h0M764.5 128.5h0M764.5 132.5h0M764.5 227.5h0M765.5 125.5h0M765.5 128.5h0M765.5 130.5h0M765.5 132.5h0M766.5 131.5h0M766.5 132.5h0M766.5 133.5h0M766.5 138.5h0M767.5 134.5h0M767.5 136.5h0M767.5 137.5h0M767.5 139.5h0M767.5 140.5h0M767.5 142.5h0M767.5 227.5h0M768.5 138.5h0M768.5 141.5h0M768.5 142.5h0M768.5 143.5h0M768.5 144.5h0M769.5 140.5h0M769.5 142.5h0M769.5 143.5h0M769.5 144.5h0M769.5 147.5h0M769.5 227.5h0M770.5 138.5h0M770.5 140.5h0M770.5 143.5h0M770.5 144.5h0M771.5 134.5h0M771.5 136.5h0M771.5 137.5h0M771.5 139.5h0M771.5 140.5h0M771.5 142.5h0M771.5 227.5h0M772.5 132.5h0M772.5 133.5h0M772.5 135.5h0M772.5 136.5h0M772.5 138.5h0M772.5 141.5h0M773.5 130.5h0M773.5 133.5h0M773.5 135.5h0M773.5 138.5h0M774.5 107.5h0M774.5 131.5h0M774.5 133.5h0M774.5 135.5h0M774.5 139.5h0M774.5 226.5h0M775.5 127.5h0M775.5 128.5h0M775.5 133.5h0M775.5 135.5h0M776.5 122.5h0M776.5 124.5h0M776.5 126.5h0M776.5 128.5h0M776.5 130.5h0M776.5 131.5h0M776.5 226.5h0M777.5 119.5h0M777.5 120.5h0M777.5 124.5h0M777.5 126.5h0M778.5 122.5h0M778.5 123.5h0M778.5 124.5h0M778.5 126.5h0M778.5 226.5h0M779.5 122.5h0M779.5 125.5h0M779.5 126.5h0M779.5 127.5h0M780.5 128.5h0M780.5 129.5h0M780.5 130.5h0M780.5 133.5h0M781.5 133.5h0M781.5 134.5h0M781.5 135.5h0M781.5 136.5h0M781.5 226.5h0M782.5 130.5h0M782.5 134.5h0M782.5 135.5h0M782.5 137.5h0M782.5 138.5h0M783.5 127.5h0M783.5 132.5h0M783.5 133.5h0M783.5 135.5h0M783.5 137.5h0M783.5 225.5h0M784.5 121.5h0M784.5 126.5h0M784.5 128.5h0M784.5 130.5h0M785.5 93.5h0M785.5 116.5h0M785.5 118.5h0M785.5 119.5h0M785.5 123.5h0M785.5 225.5h0M786.5 114.5h0M786.5 116.5h0M786.5 118.5h0M787.5 112.5h0M787.5 117.5h0M787.5 118.5h0M787.5 120.5h0M788.5 117.5h0M788.5 118.5h0M788.5 119.5h0M788.5 122.5h0M788.5 124.5h0M788.5 225.5h0M789.5 124.5h0M789.5 126.5h0M789.5 127.5h0M789.5 128.5h0M789.5 131.5h0M789.5 132.5h0M790.5 126.5h0M790.5 128.5h0M790.5 132.5h0M790.5 135.5h0M790.5 137.5h0M790.5 225.5h0M791.5 130.5h0M791.5 132.5h0M791.5 134.5h0M791.5 137.5h0M792.5 129.5h0M792.5 130.5h0M792.5 133.5h0M792.5 135.5h0M792.5 136.5h0M792.5 138.5h0M792.5 225.5h0M793.5 132.5h0M793.5 135.5h0M793.5 139.5h0M793.5 140.5h0M793.5 141.5h0M794.5 139.5h0M794.5 141.5h0M794.5 142.5h0M794.5 143.5h0M794.5 144.5h0M794.5 146.5h0M795.5 144.5h0M795.5 146.5h0M795.5 149.5h0M795.5 150.5h0M795.5 151.5h0M795.5 225.5h0M796.5 147.5h0M796.5 149.5h0M796.5 150.5h0M796.5 151.5h0M796.5 152.5h0M796.5 156.5h0M797.5 124.5h0M797.5 144.5h0M797.5 147.5h0M797.5 149.5h0M797.5 150.5h0M797.5 155.5h0M797.5 224.5h0M798.5 143.5h0M798.5 144.5h0M798.5 145.5h0M799.5 131.5h0M799.5 141.5h0M799.5 146.5h0M799.5 147.5h0M799.5 152.5h0M800.5 144.5h0M800.5 148.5h0M800.5 150.5h0M800.5 152.5h0M800.5 153.5h0M800.5 224.5h0M801.5 154.5h0M801.5 156.5h0M801.5 157.5h0M801.5 158.5h0M801.5 159.5h0M802.5 156.5h0M802.5 157.5h0M802.5 159.5h0M802.5 160.5h0M802.5 163.5h0M802.5 224.5h0M803.5 145.5h0M803.5 150.5h0M803.5 153.5h0M803.5 154.5h0M804.5 118.5h0M804.5 136.5h0M804.5 137.5h0M804.5 141.5h0M804.5 143.5h0M804.5 144.5h0M804.5 145.5h0M804.5 224.5h0M805.5 132.5h0M805.5 134.5h0M805.5 136.5h0M805.5 139.5h0M806.5 130.5h0M806.5 134.5h0M806.5 135.5h0M806.5 136.5h0M807.5 134.5h0M807.5 135.5h0M807.5 136.5h0M807.5 137.5h0M807.5 138.5h0M807.5 139.5h0M807.5 144.5h0M807.5 224.5h0M808.5 136.5h0M808.5 142.5h0M808.5 145.5h0M808.5 148.5h0M808.5 149.5h0M809.5 121.5h0M809.5 146.5h0M809.5 148.5h0M809.5 149.5h0M809.5 150.5h0M809.5 152.5h0M809.5 153.5h0M809.5 224.5h0M810.5 144.5h0M810.5 146.5h0M810.5 147.5h0M810.5 148.5h0M810.5 150.5h0M810.5 151.5h0M811.5 145.5h0M811.5 146.5h0M811.5 148.5h0M811.5 150.5h0M811.5 153.5h0M811.5 155.5h0M811.5 224.5h0M812.5 142.5h0M812.5 145.5h0M812.5 147.5h0M812.5 148.5h0M812.5 149.5h0M812.5 150.5h0M813.5 141.5h0M813.5 145.5h0M813.5 147.5h0M813.5 148.5h0M813.5 151.5h0M814.5 141.5h0M814.5 143.5h0M814.5 145.5h0M814.5 150.5h0M814.5 223.5h0M815.5 145.5h0M815.5 148.5h0M815.5 150.5h0M815.5 152.5h0M815.5 153.5h0M816.5 128.5h0M816.5 147.5h0M816.5 148.5h0M816.5 151.5h0M816.5 153.5h0M816.5 223.5h0M817.5 154.5h0M817.5 155.5h0M817.5 156.5h0M817.5 157.5h0M817.5 158.5h0M817.5 159.5h0M818.5 141.5h0M818.5 161.5h0M818.5 162.5h0M818.5 163.5h0M818.5 165.5h0M818.5 222.5h0M819.5 163.5h0M819.5 165.5h0M819.5 166.5h0M819.5 169.5h0M820.5 162.5h0M820.5 164.5h0M820.5 165.5h0M820.5 166.5h0M821.5 158.5h0M821.5 159.5h0M821.5 160.5h0M821.5 163.5h0M821.5 165.5h0M821.5 167.5h0M821.5 173.5h0M821.5 222.5h0M822.5 157.5h0M822.5 161.5h0M822.5 162.5h0M822.5 163.5h0M822.5 164.5h0M823.5 159.5h0M823.5 160.5h0M823.5 161.5h0M823.5 165.5h0M823.5 167.5h0M823.5 222.5h0M824.5 162.5h0M824.5 164.5h0M824.5 165.5h0M824.5 166.5h0M825.5 159.5h0M825.5 161.5h0M825.5 165.5h0M825.5 167.5h0M825.5 169.5h0M825.5 179.5h0M825.5 221.5h0M826.5 163.5h0M826.5 166.5h0M826.5 167.5h0M826.5 168.5h0M826.5 171.5h0M827.5 158.5h0M827.5 163.5h0M827.5 165.5h0M827.5 166.5h0M827.5 168.5h0M827.5 171.5h0M828.5 161.5h0M828.5 163.5h0M828.5 165.5h0M828.5 168.5h0M828.5 169.5h0M828.5 221.5h0M829.5 158.5h0M829.5 160.5h0M829.5 165.5h0M829.5 167.5h0M829.5 168.5h0M830.5 161.5h0M830.5 165.5h0M830.5 166.5h0M830.5 167.5h0M830.5 182.5h0M830.5 221.5h0M831.5 165.5h0M831.5 167.5h0M831.5 168.5h0M831.5 169.5h0M831.5 170.5h0M832.5 168.5h0M832.5 169.5h0M832.5 171.5h0M832.5 172.5h0M832.5 173.5h0M832.5 221.5h0M833.5 171.5h0M833.5 175.5h0M833.5 176.5h0M833.5 177.5h0M833.5 178.5h0M834.5 174.5h0M834.5 178.5h0M834.5 179.5h0M834.5 180.5h0M835.5 148.5h0M835.5 174.5h0M835.5 178.5h0M835.5 179.5h0M835.5 181.5h0M835.5 182.5h0M835.5 185.5h0M835.5 220.5h0M836.5 175.5h0M836.5 176.5h0M836.5 179.5h0M836.5 181.5h0M836.5 182.5h0M837.5 166.5h0M837.5 172.5h0M837.5 173.5h0M837.5 174.5h0M837.5 175.5h0M837.5 176.5h0M837.5 177.5h0M837.5 220.5h0M838.5 168.5h0M838.5 169.5h0M838.5 172.5h0M838.5 173.5h0M839.5 158.5h0M839.5 169.5h0M839.5 170.5h0M839.5 172.5h0M839.5 178.5h0M839.5 220.5h0M840.5 174.5h0M840.5 175.5h0M840.5 178.5h0M840.5 179.5h0M840.5 180.5h0M841.5 177.5h0M841.5 183.5h0M841.5 185.5h0M841.5 186.5h0M842.5 185.5h0M842.5 186.5h0M842.5 187.5h0M842.5 189.5h0M842.5 190.5h0M842.5 194.5h0M842.5 196.5h0M842.5 219.5h0M843.5 191.5h0M843.5 192.5h0M843.5 194.5h0M843.5 196.5h0M844.5 146.5h0M844.5 187.5h0M844.5 192.5h0M844.5 193.5h0M844.5 195.5h0M844.5 197.5h0M844.5 219.5h0M845.5 181.5h0M845.5 186.5h0M845.5 187.5h0M845.5 188.5h0M845.5 189.5h0M845.5 190.5h0M845.5 195.5h0M846.5 176.5h0M846.5 177.5h0M846.5 182.5h0M846.5 184.5h0M846.5 185.5h0M846.5 187.5h0M847.5 173.5h0M847.5 175.5h0M847.5 176.5h0M847.5 177.5h0M847.5 179.5h0M847.5 219.5h0M848.5 171.5h0M848.5 172.5h0M848.5 173.5h0M848.5 178.5h0M848.5 179.5h0M848.5 180.5h0M849.5 181.5h0M849.5 182.5h0M849.5 183.5h0M849.5 218.5h0M850.5 183.5h0M850.5 184.5h0M850.5 185.5h0M850.5 186.5h0M850.5 189.5h0M850.5 193.5h0M851.5 158.5h0M851.5 187.5h0M851.5 190.5h0M851.5 191.5h0M851.5 193.5h0M851.5 194.5h0M851.5 197.5h0M851.5 218.5h0M852.5 190.5h0M852.5 191.5h0M852.5 193.5h0M852.5 194.5h0M852.5 196.5h0M853.5 191.5h0M853.5 192.5h0M853.5 196.5h0M853.5 197.5h0M853.5 199.5h0M854.5 189.5h0M854.5 190.5h0M854.5 193.5h0M854.5 194.5h0M854.5 195.5h0M854.5 197.5h0M854.5 218.5h0M855.5 186.5h0M855.5 187.5h0M855.5 188.5h0M855.5 189.5h0M855.5 190.5h0M856.5 163.5h0M856.5 185.5h0M856.5 187.5h0M856.5 189.5h0M856.5 217.5h0M857.5 184.5h0M857.5 186.5h0M857.5 187.5h0M857.5 188.5h0M857.5 190.5h0M858.5 183.5h0M858.5 185.5h0M858.5 186.5h0M858.5 187.5h0M858.5 188.5h0M858.5 190.5h0M858.5 217.5h0M859.5 183.5h0M859.5 185.5h0M859.5 186.5h0M859.5 187.5h0M859.5 188.5h0M859.5 189.5h0M860.5 184.5h0M860.5 185.5h0M860.5 186.5h0M860.5 187.5h0M860.5 190.5h0M860.5 193.5h0M861.5 174.5h0M861.5 191.5h0M861.5 192.5h0M861.5 193.5h0M861.5 195.5h0M861.5 217.5h0M862.5 188.5h0M862.5 189.5h0M862.5 190.5h0M862.5 191.5h0M862.5 192.5h0M863.5 186.5h0M863.5 187.5h0M863.5 188.5h0M863.5 189.5h0M863.5 192.5h0M863.5 216.5h0M864.5 183.5h0M864.5 189.5h0M864.5 190.5h0M864.5 192.5h0M864.5 194.5h0M865.5 174.5h0M865.5 185.5h0M865.5 186.5h0M865.5 188.5h0M865.5 194.5h0M865.5 216.5h0M866.5 187.5h0M866.5 191.5h0M866.5 192.5h0M866.5 193.5h0M867.5 192.5h0M867.5 193.5h0M867.5 195.5h0M867.5 196.5h0M867.5 197.5h0M867.5 199.5h0M867.5 200.5h0M868.5 196.5h0M868.5 197.5h0M868.5 198.5h0M868.5 199.5h0M868.5 201.5h0M868.5 203.5h0M868.5 216.5h0M869.5 200.5h0M869.5 201.5h0M869.5 202.5h0M869.5 203.5h0M869.5 204.5h0M869.5 206.5h0M870.5 200.5h0M870.5 204.5h0M870.5 206.5h0M870.5 209.5h0M870.5 215.5h0M871.5 200.5h0M871.5 203.5h0M871.5 204.5h0M871.5 205.5h0M872.5 176.5h0M872.5 202.5h0M872.5 203.5h0M872.5 204.5h0M872.5 205.5h0M872.5 206.5h0M872.5 215.5h0M873.5 200.5h0M873.5 201.5h0M873.5 202.5h0M873.5 205.5h0M873.5 206.5h0M874.5 197.5h0M874.5 198.5h0M874.5 201.5h0M874.5 202.5h0M874.5 203.5h0M875.5 196.5h0M875.5 197.5h0M875.5 198.5h0M875.5 200.5h0M875.5 202.5h0M875.5 204.5h0M875.5 215.5h0M876.5 195.5h0M876.5 198.5h0M876.5 199.5h0M876.5 200.5h0M876.5 202.5h0M877.5 194.5h0M877.5 198.5h0M877.5 200.5h0M877.5 202.5h0M877.5 205.5h0M877.5 214.5h0M878.5 197.5h0M878.5 199.5h0M878.5 201.5h0M878.5 202.5h0M878.5 206.5h0M878.5 207.5h0M879.5 185.5h0M879.5 200.5h0M879.5 204.5h0M879.5 206.5h0M879.5 209.5h0M879.5 214.5h0M880.5 202.5h0M880.5 203.5h0M880.5 206.5h0M880.5 208.5h0M880.5 210.5h0M880.5 212.5h0M881.5 202.5h0M881.5 203.5h0M881.5 204.5h0M881.5 205.5h0M881.5 206.5h0M881.5 208.5h0M882.5 201.5h0M882.5 202.5h0M882.5 203.5h0M882.5 205.5h0M882.5 206.5h0M882.5 207.5h0M882.5 213.5h0M883.5 197.5h0M883.5 200.5h0M883.5 202.5h0M883.5 204.5h0M883.5 206.5h0M883.5 209.5h0M884.5 196.5h0M884.5 199.5h0M884.5 200.5h0M884.5 201.5h0M884.5 205.5h0M884.5 206.5h0M884.5 213.5h0M885.5 203.5h0M885.5 206.5h0M885.5 207.5h0M885.5 209.5h0M885.5 210.5h0M885.5 212.5h0M886.5 205.5h0M886.5 210.5h0M886.5 212.5h0M886.5 213.5h0M886.5 215.5h0M887.5 210.5h0M887.5 211.5h0M887.5 212.5h0M887.5 213.5h0M887.5 215.5h0M888.5 207.5h0M888.5 210.5h0M888.5 213.5h0M888.5 214.5h0M888.5 215.5h0M888.5 216.5h0M889.5 204.5h0M889.5 207.5h0M889.5 208.5h0M889.5 209.5h0M889.5 210.5h0M889.5 212.5h0M889.5 213.5h0M890.5 200.5h0M890.5 204.5h0M890.5 206.5h0M890.5 211.5h0M891.5 202.5h0M891.5 203.5h0M891.5 204.5h0M891.5 205.5h0M891.5 206.5h0M891.5 211.5h0M891.5 212.5h0M892.5 199.5h0M892.5 203.5h0M892.5 206.5h0M892.5 207.5h0M892.5 212.5h0M892.5 215.5h0M893.5 186.5h0M893.5 203.5h0M893.5 205.5h0M893.5 206.5h0M893.5 207.5h0M893.5 209.5h0M894.5 207.5h0M894.5 210.5h0M894.5 212.5h0M894.5 213.5h0M895.5 210.5h0M895.5 211.5h0M895.5 213.5h0M896.5 211.5h0M896.5 214.5h0M896.5 215.5h0M896.5 217.5h0M896.5 218.5h0M897.5 213.5h0M897.5 215.5h0M897.5 216.5h0M897.5 221.5h0M898.5 210.5h0M898.5 211.5h0M898.5 215.5h0M898.5 216.5h0M898.5 219.5h0M898.5 222.5h0M899.5 212.5h0M899.5 213.5h0M899.5 217.5h0M899.5 218.5h0M899.5 219.5h0M899.5 220.5h0M900.5 201.5h0M900.5 216.5h0M900.5 217.5h0M900.5 219.5h0M900.5 220.5h0M901.5 211.5h0M901.5 214.5h0M901.5 217.5h0M901.5 221.5h0M901.5 224.5h0M901.5 225.5h0M902.5 216.5h0M902.5 217.5h0M902.5 220.5h0M902.5 222.5h0M902.5 223.5h0M902.5 227.5h0M903.5 210.5h0M903.5 223.5h0M903.5 224.5h0M903.5 226.5h0M903.5 227.5h0M903.5 228.5h0M904.5 223.5h0M904.5 225.5h0M904.5 228.5h0M904.5 229.5h0M904.5 230.5h0M904.5 233.5h0M905.5 200.5h0M905.5 210.5h0M905.5 228.5h0M905.5 232.5h0M906.5 225.5h0M906.5 226.5h0M906.5 231.5h0M906.5 232.5h0M907.5 229.5h0M907.5 230.5h0M907.5 232.5h0M907.5 233.5h0M907.5 238.5h0M908.5 210.5h0M908.5 231.5h0M908.5 235.5h0M908.5 237.5h0M908.5 241.5h0M909.5 232.5h0M909.5 235.5h0M909.5 236.5h0M909.5 237.5h0M909.5 240.5h0M910.5 209.5h0M910.5 234.5h0M910.5 238.5h0M910.5 239.5h0M910.5 240.5h0M910.5 243.5h0M911.5 231.5h0M911.5 234.5h0M911.5 236.5h0M912.5 207.5h0M912.5 209.5h0M912.5 228.5h0M912.5 230.5h0M912.5 232.5h0M912.5 234.5h0M913.5 229.5h0M913.5 231.5h0M913.5 232.5h0M913.5 236.5h0M914.5 230.5h0M914.5 232.5h0M914.5 233.5h0M914.5 234.5h0M915.5 209.5h0M915.5 235.5h0M915.5 236.5h0M915.5 237.5h0M915.5 238.5h0M915.5 239.5h0M915.5 243.5h0M915.5 249.5h0M916.5 234.5h0M916.5 237.5h0M916.5 238.5h0M916.5 239.5h0M916.5 240.5h0M916.5 241.5h0M917.5 208.5h0M917.5 227.5h0M917.5 237.5h0M917.5 238.5h0M917.5 239.5h0M917.5 241.5h0M917.5 243.5h0M918.5 236.5h0M918.5 238.5h0M918.5 239.5h0M918.5 240.5h0M918.5 241.5h0M918.5 242.5h0M919.5 208.5h0M919.5 217.5h0M919.5 238.5h0M919.5 239.5h0M919.5 240.5h0M919.5 243.5h0M919.5 246.5h0M920.5 237.5h0M920.5 240.5h0M920.5 241.5h0M920.5 244.5h0M920.5 245.5h0M921.5 242.5h0M921.5 243.5h0M921.5 244.5h0M921.5 245.5h0M921.5 246.5h0M921.5 247.5h0M922.5 208.5h0M922.5 241.5h0M922.5 243.5h0M922.5 244.5h0M922.5 246.5h0M922.5 249.5h0M923.5 237.5h0M923.5 239.5h0M923.5 240.5h0M923.5 241.5h0M923.5 242.5h0M923.5 246.5h0M924.5 207.5h0M924.5 225.5h0M924.5 232.5h0M924.5 234.5h0M924.5 235.5h0M924.5 240.5h0M924.5 241.5h0M925.5 229.5h0M925.5 232.5h0M925.5 233.5h0M926.5 207.5h0M926.5 218.5h0M926.5 232.5h0M926.5 235.5h0M926.5 236.5h0M926.5 237.5h0M926.5 240.5h0M927.5 233.5h0M927.5 236.5h0M927.5 237.5h0M927.5 240.5h0M927.5 241.5h0M927.5 243.5h0M928.5 243.5h0M928.5 247.5h0M928.5 248.5h0M928.5 252.5h0M929.5 207.5h0M929.5 247.5h0M929.5 248.5h0M929.5 249.5h0M929.5 252.5h0M929.5 253.5h0M929.5 258.5h0M930.5 249.5h0M930.5 251.5h0M930.5 254.5h0M930.5 256.5h0M931.5 206.5h0M931.5 212.5h0M931.5 243.5h0M931.5 246.5h0M931.5 249.5h0M931.5 250.5h0M932.5 238.5h0M932.5 239.5h0M932.5 240.5h0M932.5 241.5h0M932.5 242.5h0M933.5 206.5h0M933.5 238.5h0M933.5 239.5h0M933.5 240.5h0M933.5 242.5h0M933.5 243.5h0M934.5 239.5h0M934.5 240.5h0M934.5 241.5h0M934.5 242.5h0M934.5 246.5h0M935.5 241.5h0M935.5 245.5h0M935.5 246.5h0M935.5 249.5h0M935.5 250.5h0M936.5 206.5h0M936.5 227.5h0M936.5 245.5h0M936.5 247.5h0M936.5 249.5h0M936.5 251.5h0M936.5 255.5h0M936.5 258.5h0M937.5 251.5h0M937.5 254.5h0M937.5 255.5h0M937.5 256.5h0M938.5 205.5h0M938.5 236.5h0M938.5 250.5h0M938.5 251.5h0M938.5 253.5h0M938.5 255.5h0M938.5 258.5h0M939.5 249.5h0M939.5 252.5h0M939.5 253.5h0M939.5 257.5h0M939.5 259.5h0M940.5 245.5h0M940.5 249.5h0M940.5 251.5h0M940.5 253.5h0M940.5 254.5h0M940.5 255.5h0M941.5 205.5h0M941.5 245.5h0M941.5 250.5h0M941.5 251.5h0M941.5 252.5h0M941.5 255.5h0M942.5 250.5h0M942.5 253.5h0M942.5 255.5h0M942.5 256.5h0M942.5 257.5h0M943.5 205.5h0M943.5 231.5h0M943.5 253.5h0M943.5 257.5h0M943.5 259.5h0M944.5 262.5h0M944.5 263.5h0M944.5 266.5h0M944.5 267.5h0M944.5 268.5h0M945.5 205.5h0M945.5 261.5h0M945.5 265.5h0M945.5 266.5h0M945.5 267.5h0M946.5 261.5h0M946.5 263.5h0M946.5 264.5h0M946.5 266.5h0M947.5 228.5h0M947.5 260.5h0M947.5 261.5h0M947.5 262.5h0M947.5 265.5h0M947.5 266.5h0M947.5 267.5h0M948.5 204.5h0M948.5 262.5h0M948.5 263.5h0M948.5 264.5h0M948.5 265.5h0M948.5 266.5h0M948.5 267.5h0M948.5 268.5h0M949.5 264.5h0M949.5 266.5h0M949.5 267.5h0M949.5 270.5h0M950.5 204.5h0M950.5 263.5h0M950.5 267.5h0M950.5 269.5h0M950.5 270.5h0M950.5 273.5h0M951.5 264.5h0M951.5 267.5h0M951.5 270.5h0M951.5 271.5h0M951.5 273.5h0M951.5 274.5h0M952.5 204.5h0M952.5 265.5h0M952.5 268.5h0M952.5 270.5h0M952.5 271.5h0M952.5 282.5h0M953.5 257.5h0M953.5 264.5h0M953.5 266.5h0M953.5 268.5h0M953.5 273.5h0M954.5 266.5h0M954.5 267.5h0M954.5 269.5h0M954.5 271.5h0M955.5 203.5h0M955.5 265.5h0M955.5 267.5h0M955.5 270.5h0M955.5 271.5h0M956.5 269.5h0M956.5 270.5h0M956.5 271.5h0M956.5 272.5h0M956.5 273.5h0M956.5 277.5h0M957.5 203.5h0M957.5 253.5h0M957.5 272.5h0M957.5 273.5h0M957.5 274.5h0M957.5 275.5h0M958.5 271.5h0M958.5 272.5h0M958.5 273.5h0M958.5 277.5h0M959.5 203.5h0M959.5 272.5h0M959.5 273.5h0M959.5 274.5h0M959.5 275.5h0M959.5 276.5h0M959.5 280.5h0M960.5 272.5h0M960.5 273.5h0M960.5 276.5h0M960.5 278.5h0M960.5 280.5h0M961.5 272.5h0M961.5 275.5h0M961.5 276.5h0M961.5 278.5h0M961.5 279.5h0M961.5 280.5h0M962.5 202.5h0M962.5 272.5h0M962.5 274.5h0M962.5 277.5h0M962.5 280.5h0M963.5 275.5h0M963.5 276.5h0M963.5 277.5h0M963.5 278.5h0M963.5 279.5h0M964.5 202.5h0M964.5 255.5h0M964.5 273.5h0M964.5 274.5h0M964.5 275.5h0M964.5 277.5h0M964.5 281.5h0M964.5 282.5h0M964.5 285.5h0M965.5 278.5h0M965.5 279.5h0M965.5 283.5h0M965.5 285.5h0M966.5 201.5h0M966.5 278.5h0M966.5 279.5h0M966.5 280.5h0M966.5 281.5h0M966.5 282.5h0M966.5 284.5h0M967.5 276.5h0M967.5 278.5h0M967.5 279.5h0M967.5 283.5h0M967.5 285.5h0M967.5 289.5h0M968.5 282.5h0M968.5 283.5h0M968.5 286.5h0M968.5 287.5h0M968.5 290.5h0M968.5 293.5h0M969.5 201.5h0M969.5 268.5h0M969.5 287.5h0M969.5 288.5h0M969.5 289.5h0M969.5 291.5h0M969.5 292.5h0M970.5 286.5h0M970.5 289.5h0M970.5 290.5h0M970.5 292.5h0M970.5 294.5h0M971.5 201.5h0M971.5 286.5h0M971.5 287.5h0M971.5 289.5h0M971.5 292.5h0M971.5 293.5h0M972.5 283.5h0M972.5 285.5h0M972.5 287.5h0M972.5 288.5h0M972.5 289.5h0M973.5 200.5h0M973.5 271.5h0M973.5 282.5h0M973.5 286.5h0M973.5 287.5h0M973.5 288.5h0M973.5 297.5h0M974.5 283.5h0M974.5 285.5h0M974.5 286.5h0M974.5 288.5h0M974.5 289.5h0M974.5 293.5h0M975.5 285.5h0M975.5 286.5h0M975.5 287.5h0M975.5 291.5h0M975.5 293.5h0M975.5 294.5h0M976.5 199.5h0M976.5 292.5h0M976.5 293.5h0M976.5 294.5h0M976.5 295.5h0M976.5 297.5h0M976.5 298.5h0M977.5 291.5h0M977.5 294.5h0M977.5 295.5h0M977.5 296.5h0M977.5 298.5h0M978.5 199.5h0M978.5 293.5h0M978.5 294.5h0M978.5 295.5h0M978.5 297.5h0M978.5 299.5h0M979.5 291.5h0M979.5 293.5h0M979.5 294.5h0M979.5 295.5h0M980.5 198.5h0M980.5 288.5h0M980.5 292.5h0M980.5 293.5h0M980.5 294.5h0M980.5 296.5h0M980.5 297.5h0M981.5 289.5h0M981.5 292.5h0M981.5 294.5h0M981.5 295.5h0M981.5 297.5h0M982.5 286.5h0M982.5 289.5h0M982.5 291.5h0M982.5 292.5h0M982.5 294.5h0M982.5 295.5h0M983.5 198.5h0M983.5 294.5h0M983.5 296.5h0M983.5 297.5h0M983.5 298.5h0M983.5 299.5h0M984.5 297.5h0M984.5 298.5h0M984.5 300.5h0M984.5 301.5h0M984.5 302.5h0M984.5 310.5h0M985.5 197.5h0M985.5 302.5h0M985.5 303.5h0M985.5 305.5h0M985.5 306.5h0M986.5 302.5h0M986.5 304.5h0M986.5 307.5h0M986.5 308.5h0M986.5 309.5h0M986.5 314.5h0M987.5 310.5h0M987.5 311.5h0M987.5 313.5h0M987.5 317.5h0M987.5 320.5h0M988.5 196.5h0M988.5 315.5h0M988.5 316.5h0M988.5 317.5h0M988.5 319.5h0M989.5 312.5h0M989.5 314.5h0M989.5 315.5h0M989.5 316.5h0M989.5 317.5h0M990.5 195.5h0M990.5 311.5h0M990.5 312.5h0M990.5 313.5h0M990.5 314.5h0M991.5 307.5h0M991.5 310.5h0M991.5 311.5h0M991.5 312.5h0M991.5 315.5h0M991.5 316.5h0M991.5 320.5h0M992.5 195.5h0M992.5 305.5h0M992.5 314.5h0M992.5 315.5h0M992.5 316.5h0M992.5 317.5h0M992.5 318.5h0M993.5 314.5h0M993.5 316.5h0M993.5 318.5h0M993.5 322.5h0M993.5 323.5h0M993.5 324.5h0M994.5 301.5h0M994.5 321.5h0M994.5 322.5h0M994.5 324.5h0M994.5 325.5h0M994.5 326.5h0M995.5 194.5h0M995.5 324.5h0M995.5 326.5h0M995.5 327.5h0M995.5 328.5h0M995.5 333.5h0M996.5 322.5h0M996.5 323.5h0M996.5 326.5h0M996.5 329.5h0M996.5 330.5h0M996.5 334.5h0M997.5 194.5h0M997.5 332.5h0M997.5 334.5h0M997.5 335.5h0M998.5 326.5h0M998.5 327.5h0M998.5 328.5h0M998.5 329.5h0M998.5 330.5h0M998.5 336.5h0M999.5 193.5h0M999.5 330.5h0M999.5 331.5h0M999.5 332.5h0M999.5 333.5h0M999.5 335.5h0M999.5 337.5h0M1000.5 328.5h0M1000.5 331.5h0M1000.5 333.5h0M1000.5 335.5h0M1000.5 336.5h0M1001.5 317.5h0M1001.5 333.5h0M1001.5 336.5h0M1001.5 338.5h0M1002.5 193.5h0M1002.5 332.5h0M1002.5 334.5h0M1002.5 335.5h0M1002.5 336.5h0M1002.5 339.5h0M1002.5 340.5h0M1003.5 330.5h0M1003.5 334.5h0M1003.5 335.5h0M1003.5 336.5h0M1004.5 192.5h0M1004.5 331.5h0M1004.5 334.5h0M1004.5 335.5h0M1004.5 337.5h0M1004.5 338.5h0M1005.5 326.5h0M1005.5 329.5h0M1005.5 331.5h0M1005.5 332.5h0M1005.5 334.5h0M1005.5 337.5h0M1006.5 192.5h0M1006.5 319.5h0M1006.5 327.5h0M1006.5 331.5h0M1006.5 332.5h0M1006.5 333.5h0M1006.5 334.5h0M1006.5 338.5h0M1007.5 333.5h0M1007.5 334.5h0M1007.5 336.5h0M1007.5 340.5h0M1008.5 339.5h0M1008.5 340.5h0M1008.5 341.5h0M1008.5 342.5h0M1008.5 343.5h0M1008.5 347.5h0M1009.5 191.5h0M1009.5 339.5h0M1009.5 342.5h0M1009.5 343.5h0M1009.5 346.5h0M1009.5 348.5h0M1010.5 340.5h0M1010.5 343.5h0M1010.5 345.5h0M1010.5 346.5h0M1010.5 347.5h0M1010.5 348.5h0M1010.5 353.5h0M1011.5 191.5h0M1011.5 344.5h0M1011.5 346.5h0M1011.5 348.5h0M1011.5 349.5h0M1011.5 350.5h0M1012.5 337.5h0M1012.5 338.5h0M1012.5 340.5h0M1012.5 342.5h0M1013.5 190.5h0M1013.5 340.5h0M1013.5 341.5h0M1013.5 342.5h0M1013.5 344.5h0M1013.5 346.5h0M1014.5 340.5h0M1014.5 341.5h0M1014.5 342.5h0M1014.5 344.5h0M1014.5 351.5h0M1015.5 336.5h0M1015.5 343.5h0M1015.5 344.5h0M1015.5 345.5h0M1015.5 347.5h0M1015.5 349.5h0M1016.5 190.5h0M1016.5 344.5h0M1016.5 345.5h0M1016.5 347.5h0M1016.5 350.5h0M1016.5 351.5h0M1016.5 352.5h0M1017.5 346.5h0M1017.5 349.5h0M1017.5 350.5h0M1017.5 351.5h0M1017.5 353.5h0M1017.5 355.5h0M1018.5 190.5h0M1018.5 342.5h0M1018.5 348.5h0M1018.5 349.5h0M1018.5 350.5h0M1018.5 351.5h0M1019.5 347.5h0M1019.5 349.5h0M1019.5 351.5h0M1019.5 352.5h0M1020.5 189.5h0M1020.5 334.5h0M1020.5 349.5h0M1020.5 350.5h0M1020.5 354.5h0M1020.5 355.5h0M1021.5 355.5h0M1021.5 356.5h0M1021.5 357.5h0M1022.5 357.5h0M1022.5 360.5h0M1022.5 361.5h0M1022.5 366.5h0M1023.5 189.5h0M1023.5 360.5h0M1023.5 361.5h0M1023.5 362.5h0M1023.5 363.5h0M1023.5 364.5h0M1024.5 361.5h0M1024.5 362.5h0M1024.5 363.5h0M1024.5 364.5h0M1024.5 366.5h0M1024.5 367.5h0M1025.5 189.5h0M1025.5 345.5h0M1025.5 357.5h0M1025.5 358.5h0M1025.5 359.5h0M1025.5 360.5h0M1025.5 363.5h0M1025.5 365.5h0M1026.5 354.5h0M1026.5 356.5h0M1026.5 357.5h0M1026.5 358.5h0M1026.5 360.5h0M1026.5 362.5h0M1027.5 189.5h0M1027.5 352.5h0M1027.5 354.5h0M1027.5 356.5h0M1027.5 357.5h0M1028.5 349.5h0M1028.5 353.5h0M1028.5 354.5h0M1028.5 355.5h0M1028.5 356.5h0M1029.5 355.5h0M1029.5 356.5h0M1029.5 357.5h0M1029.5 360.5h0M1029.5 361.5h0M1029.5 362.5h0M1030.5 188.5h0M1030.5 359.5h0M1030.5 360.5h0M1030.5 361.5h0M1030.5 362.5h0M1030.5 365.5h0M1030.5 367.5h0M1031.5 366.5h0M1031.5 367.5h0M1031.5 368.5h0M1032.5 188.5h0M1032.5 360.5h0M1032.5 361.5h0M1032.5 363.5h0M1032.5 366.5h0M1033.5 361.5h0M1033.5 362.5h0M1033.5 363.5h0M1033.5 367.5h0M1034.5 356.5h0M1034.5 357.5h0M1034.5 359.5h0M1034.5 360.5h0M1034.5 361.5h0M1034.5 362.5h0M1035.5 188.5h0M1035.5 352.5h0M1035.5 353.5h0M1035.5 355.5h0M1035.5 356.5h0M1035.5 359.5h0M1036.5 353.5h0M1036.5 354.5h0M1036.5 355.5h0M1036.5 359.5h0M1036.5 360.5h0M1037.5 188.5h0M1037.5 352.5h0M1037.5 356.5h0M1037.5 357.5h0M1037.5 358.5h0M1037.5 359.5h0M1037.5 361.5h0M1038.5 357.5h0M1038.5 359.5h0M1038.5 360.5h0M1038.5 361.5h0M1038.5 363.5h0M1039.5 188.5h0M1039.5 359.5h0M1039.5 360.5h0M1039.5 362.5h0M1039.5 363.5h0M1039.5 365.5h0M1040.5 353.5h0M1040.5 357.5h0M1040.5 358.5h0M1040.5 359.5h0M1040.5 360.5h0M1040.5 364.5h0M1040.5 365.5h0M1041.5 356.5h0M1041.5 357.5h0M1041.5 358.5h0M1042.5 187.5h0M1042.5 350.5h0M1042.5 351.5h0M1042.5 354.5h0M1042.5 355.5h0M1042.5 356.5h0M1042.5 359.5h0M1043.5 352.5h0M1043.5 355.5h0M1043.5 356.5h0M1043.5 358.5h0M1044.5 187.5h0M1044.5 354.5h0M1044.5 355.5h0M1044.5 356.5h0M1044.5 359.5h0M1045.5 355.5h0M1045.5 356.5h0M1046.5 187.5h0M1046.5 351.5h0M1046.5 352.5h0M1046.5 354.5h0M1046.5 358.5h0M1047.5 344.5h0M1047.5 345.5h0M1047.5 346.5h0M1047.5 349.5h0M1047.5 350.5h0M1047.5 353.5h0M1048.5 335.5h0M1048.5 341.5h0M1048.5 342.5h0M1048.5 344.5h0M1048.5 345.5h0M1048.5 347.5h0M1048.5 349.5h0M1049.5 187.5h0M1049.5 330.5h0M1049.5 334.5h0M1049.5 335.5h0M1049.5 336.5h0M1049.5 337.5h0M1049.5 338.5h0M1050.5 329.5h0M1050.5 332.5h0M1050.5 333.5h0M1050.5 336.5h0M1051.5 187.5h0M1051.5 330.5h0M1051.5 332.5h0M1051.5 335.5h0M1051.5 336.5h0M1051.5 338.5h0M1051.5 339.5h0M1051.5 379.5h0M1052.5 341.5h0M1052.5 346.5h0M1052.5 347.5h0M1052.5 350.5h0M1053.5 187.5h0M1053.5 350.5h0M1053.5 351.5h0M1053.5 352.5h0M1053.5 355.5h0M1053.5 356.5h0M1053.5 358.5h0M1054.5 352.5h0M1054.5 356.5h0M1054.5 357.5h0M1054.5 358.5h0M1055.5 354.5h0M1055.5 356.5h0M1055.5 357.5h0M1055.5 359.5h0M1056.5 188.5h0M1056.5 346.5h0M1056.5 352.5h0M1056.5 353.5h0M1056.5 355.5h0M1056.5 358.5h0M1057.5 347.5h0M1057.5 348.5h0M1057.5 350.5h0M1057.5 352.5h0M1058.5 188.5h0M1058.5 344.5h0M1058.5 346.5h0M1058.5 349.5h0M1058.5 352.5h0M1059.5 341.5h0M1059.5 344.5h0M1059.5 346.5h0M1059.5 348.5h0M1060.5 188.5h0M1060.5 336.5h0M1060.5 343.5h0M1060.5 346.5h0M1060.5 347.5h0M1060.5 350.5h0M1060.5 353.5h0M1061.5 346.5h0M1061.5 347.5h0M1061.5 352.5h0M1062.5 347.5h0M1062.5 348.5h0M1062.5 350.5h0M1062.5 351.5h0M1062.5 352.5h0M1063.5 188.5h0M1063.5 348.5h0M1063.5 352.5h0M1063.5 354.5h0M1063.5 355.5h0M1063.5 357.5h0M1064.5 350.5h0M1064.5 352.5h0M1064.5 353.5h0M1064.5 355.5h0M1064.5 357.5h0M1064.5 358.5h0M1065.5 189.5h0M1065.5 330.5h0M1065.5 353.5h0M1065.5 355.5h0M1065.5 357.5h0M1065.5 358.5h0M1065.5 360.5h0M1065.5 361.5h0M1066.5 352.5h0M1066.5 354.5h0M1066.5 355.5h0M1066.5 356.5h0M1066.5 357.5h0M1066.5 358.5h0M1067.5 189.5h0M1067.5 353.5h0M1067.5 354.5h0M1067.5 355.5h0M1067.5 357.5h0M1067.5 358.5h0M1068.5 348.5h0M1068.5 349.5h0M1068.5 350.5h0M1068.5 353.5h0M1068.5 354.5h0M1069.5 344.5h0M1069.5 348.5h0M1069.5 349.5h0M1069.5 355.5h0M1070.5 189.5h0M1070.5 333.5h0M1070.5 346.5h0M1070.5 347.5h0M1070.5 352.5h0M1070.5 353.5h0M1070.5 354.5h0M1070.5 355.5h0M1071.5 346.5h0M1071.5 348.5h0M1071.5 349.5h0M1071.5 351.5h0M1071.5 352.5h0M1072.5 189.5h0M1072.5 350.5h0M1072.5 351.5h0M1072.5 352.5h0M1072.5 355.5h0M1072.5 356.5h0M1073.5 351.5h0M1073.5 352.5h0M1073.5 353.5h0M1073.5 354.5h0M1073.5 355.5h0M1073.5 356.5h0M1074.5 190.5h0M1074.5 334.5h0M1074.5 350.5h0M1074.5 354.5h0M1074.5 355.5h0M1074.5 356.5h0M1074.5 358.5h0M1074.5 359.5h0M1075.5 354.5h0M1075.5 357.5h0M1075.5 359.5h0M1075.5 360.5h0M1075.5 361.5h0M1076.5 350.5h0M1076.5 351.5h0M1076.5 352.5h0M1076.5 353.5h0M1076.5 356.5h0M1076.5 357.5h0M1077.5 190.5h0M1077.5 343.5h0M1077.5 345.5h0M1077.5 347.5h0M1077.5 348.5h0M1077.5 349.5h0M1077.5 350.5h0M1078.5 338.5h0M1078.5 342.5h0M1078.5 345.5h0M1078.5 346.5h0M1078.5 350.5h0M1079.5 190.5h0M1079.5 338.5h0M1079.5 340.5h0M1079.5 341.5h0M1079.5 342.5h0M1079.5 343.5h0M1079.5 345.5h0M1080.5 340.5h0M1080.5 341.5h0M1080.5 344.5h0M1080.5 345.5h0M1080.5 346.5h0M1080.5 347.5h0M1081.5 330.5h0M1081.5 341.5h0M1081.5 343.5h0M1081.5 344.5h0M1081.5 347.5h0M1081.5 350.5h0M1082.5 191.5h0M1082.5 345.5h0M1082.5 347.5h0M1082.5 348.5h0M1082.5 349.5h0M1083.5 344.5h0M1083.5 347.5h0M1083.5 348.5h0M1083.5 349.5h0M1083.5 351.5h0M1084.5 191.5h0M1084.5 338.5h0M1084.5 341.5h0M1084.5 342.5h0M1084.5 345.5h0M1085.5 329.5h0M1085.5 330.5h0M1085.5 331.5h0M1085.5 336.5h0M1085.5 339.5h0M1086.5 192.5h0M1086.5 321.5h0M1086.5 324.5h0M1086.5 328.5h0M1086.5 329.5h0M1086.5 330.5h0M1086.5 332.5h0M1087.5 325.5h0M1087.5 328.5h0M1087.5 329.5h0M1087.5 330.5h0M1087.5 332.5h0M1088.5 329.5h0M1088.5 331.5h0M1088.5 332.5h0M1088.5 333.5h0M1088.5 336.5h0M1089.5 192.5h0M1089.5 334.5h0M1089.5 335.5h0M1089.5 336.5h0M1089.5 342.5h0M1090.5 327.5h0M1090.5 328.5h0M1090.5 332.5h0M1090.5 335.5h0M1090.5 336.5h0M1091.5 193.5h0M1091.5 316.5h0M1091.5 326.5h0M1091.5 327.5h0M1091.5 328.5h0M1091.5 331.5h0M1091.5 332.5h0M1091.5 333.5h0M1092.5 322.5h0M1092.5 326.5h0M1092.5 327.5h0M1092.5 329.5h0M1093.5 193.5h0M1093.5 319.5h0M1093.5 320.5h0M1093.5 321.5h0M1093.5 322.5h0M1093.5 323.5h0M1094.5 322.5h0M1094.5 323.5h0M1094.5 324.5h0M1095.5 319.5h0M1095.5 322.5h0M1095.5 324.5h0M1095.5 328.5h0M1096.5 194.5h0M1096.5 319.5h0M1096.5 321.5h0M1096.5 322.5h0M1096.5 330.5h0M1097.5 314.5h0M1097.5 317.5h0M1097.5 318.5h0M1097.5 320.5h0M1098.5 195.5h0M1098.5 283.5h0M1098.5 305.5h0M1098.5 311.5h0M1098.5 315.5h0M1098.5 317.5h0M1098.5 319.5h0M1099.5 306.5h0M1099.5 309.5h0M1099.5 313.5h0M1099.5 314.5h0M1100.5 195.5h0M1100.5 302.5h0M1100.5 306.5h0M1100.5 307.5h0M1100.5 309.5h0M1101.5 302.5h0M1101.5 303.5h0M1101.5 304.5h0M1101.5 307.5h0M1102.5 300.5h0M1102.5 301.5h0M1102.5 305.5h0M1102.5 307.5h0M1102.5 308.5h0M1103.5 196.5h0M1103.5 299.5h0M1103.5 300.5h0M1103.5 301.5h0M1103.5 302.5h0M1103.5 305.5h0M1104.5 303.5h0M1104.5 305.5h0M1104.5 306.5h0M1104.5 307.5h0M1104.5 309.5h0M1105.5 196.5h0M1105.5 304.5h0M1105.5 306.5h0M1105.5 308.5h0M1106.5 303.5h0M1106.5 306.5h0M1106.5 309.5h0M1106.5 310.5h0M1106.5 312.5h0M1107.5 197.5h0M1107.5 302.5h0M1107.5 303.5h0M1107.5 305.5h0M1107.5 306.5h0M1107.5 307.5h0M1107.5 308.5h0M1108.5 299.5h0M1108.5 303.5h0M1108.5 305.5h0M1108.5 306.5h0M1108.5 308.5h0M1109.5 299.5h0M1109.5 300.5h0M1109.5 302.5h0M1109.5 303.5h0M1109.5 305.5h0M1110.5 198.5h0M1110.5 296.5h0M1110.5 297.5h0M1110.5 298.5h0M1110.5 299.5h0M1110.5 301.5h0M1110.5 303.5h0M1110.5 304.5h0M1111.5 296.5h0M1111.5 299.5h0M1111.5 300.5h0M1111.5 302.5h0M1111.5 303.5h0M1112.5 198.5h0M1112.5 301.5h0M1112.5 302.5h0M1112.5 303.5h0M1112.5 306.5h0M1113.5 300.5h0M1113.5 301.5h0M1113.5 302.5h0M1113.5 303.5h0M1113.5 304.5h0M1113.5 309.5h0M1114.5 199.5h0M1114.5 279.5h0M1114.5 300.5h0M1114.5 301.5h0M1114.5 304.5h0M1114.5 306.5h0M1114.5 307.5h0M1114.5 308.5h0M1115.5 301.5h0M1115.5 302.5h0M1115.5 304.5h0M1115.5 306.5h0M1116.5 296.5h0M1116.5 298.5h0M1116.5 299.5h0M1116.5 301.5h0M1117.5 199.5h0M1117.5 293.5h0M1117.5 295.5h0M1117.5 297.5h0M1117.5 301.5h0M1117.5 302.5h0M1117.5 304.5h0M1118.5 290.5h0M1118.5 291.5h0M1118.5 292.5h0M1118.5 294.5h0M1118.5 296.5h0M1118.5 300.5h0M1119.5 200.5h0M1119.5 287.5h0M1119.5 288.5h0M1119.5 290.5h0M1119.5 291.5h0M1120.5 288.5h0M1120.5 290.5h0M1120.5 291.5h0M1120.5 292.5h0M1120.5 293.5h0M1121.5 200.5h0M1121.5 278.5h0M1121.5 288.5h0M1121.5 290.5h0M1121.5 292.5h0M1121.5 293.5h0M1121.5 295.5h0M1122.5 288.5h0M1122.5 291.5h0M1122.5 292.5h0M1122.5 294.5h0M1123.5 290.5h0M1123.5 291.5h0M1123.5 292.5h0M1123.5 296.5h0M1123.5 297.5h0M1124.5 201.5h0M1124.5 288.5h0M1124.5 291.5h0M1124.5 294.5h0M1124.5 296.5h0M1125.5 285.5h0M1125.5 289.5h0M1125.5 290.5h0M1125.5 292.5h0M1125.5 296.5h0M1126.5 201.5h0M1126.5 269.5h0M1126.5 286.5h0M1126.5 289.5h0M1126.5 290.5h0M1126.5 294.5h0M1127.5 287.5h0M1127.5 289.5h0M1127.5 291.5h0M1127.5 292.5h0M1127.5 293.5h0M1128.5 286.5h0M1128.5 288.5h0M1128.5 289.5h0M1129.5 202.5h0M1129.5 282.5h0M1129.5 285.5h0M1129.5 286.5h0M1129.5 287.5h0M1129.5 288.5h0M1130.5 281.5h0M1130.5 282.5h0M1130.5 284.5h0M1130.5 286.5h0M1131.5 202.5h0M1131.5 279.5h0M1131.5 281.5h0M1131.5 282.5h0M1131.5 283.5h0M1131.5 285.5h0M1132.5 278.5h0M1132.5 279.5h0M1132.5 280.5h0M1132.5 283.5h0M1133.5 203.5h0M1133.5 259.5h0M1133.5 281.5h0M1133.5 283.5h0M1133.5 284.5h0M1133.5 286.5h0M1134.5 280.5h0M1134.5 281.5h0M1134.5 282.5h0M1134.5 284.5h0M1134.5 285.5h0M1135.5 272.5h0M1135.5 277.5h0M1135.5 278.5h0M1135.5 279.5h0M1135.5 280.5h0M1135.5 281.5h0M1136.5 203.5h0M1136.5 271.5h0M1136.5 274.5h0M1136.5 278.5h0M1136.5 279.5h0M1137.5 270.5h0M1137.5 272.5h0M1137.5 273.5h0M1137.5 274.5h0M1137.5 275.5h0M1138.5 203.5h0M1138.5 266.5h0M1138.5 269.5h0M1138.5 270.5h0M1138.5 271.5h0M1138.5 275.5h0M1138.5 276.5h0M1139.5 265.5h0M1139.5 270.5h0M1139.5 273.5h0M1139.5 274.5h0M1139.5 276.5h0M1140.5 204.5h0M1140.5 267.5h0M1140.5 268.5h0M1140.5 270.5h0M1140.5 271.5h0M1141.5 269.5h0M1141.5 270.5h0M1141.5 272.5h0M1141.5 274.5h0M1142.5 268.5h0M1142.5 270.5h0M1142.5 271.5h0M1142.5 273.5h0M1142.5 275.5h0M1143.5 204.5h0M1143.5 270.5h0M1143.5 271.5h0M1143.5 272.5h0M1143.5 274.5h0M1143.5 276.5h0M1144.5 270.5h0M1144.5 272.5h0M1144.5 273.5h0M1144.5 274.5h0M1144.5 275.5h0M1145.5 205.5h0M1145.5 265.5h0M1145.5 266.5h0M1145.5 270.5h0M1145.5 271.5h0M1145.5 272.5h0M1146.5 264.5h0M1146.5 266.5h0M1146.5 267.5h0M1146.5 270.5h0M1147.5 205.5h0M1147.5 244.5h0M1147.5 266.5h0M1147.5 268.5h0M1147.5 269.5h0M1147.5 271.5h0M1147.5 272.5h0M1148.5 265.5h0M1148.5 266.5h0M1148.5 267.5h0M1148.5 269.5h0M1148.5 270.5h0M1149.5 266.5h0M1149.5 268.5h0M1149.5 270.5h0M1149.5 271.5h0M1150.5 205.5h0M1150.5 263.5h0M1150.5 264.5h0M1150.5 268.5h0M1150.5 270.5h0M1150.5 272.5h0M1151.5 257.5h0M1151.5 259.5h0M1151.5 260.5h0M1151.5 261.5h0M1152.5 205.5h0M1152.5 251.5h0M1152.5 253.5h0M1152.5 254.5h0M1152.5 255.5h0M1152.5 257.5h0M1152.5 259.5h0M1152.5 261.5h0M1153.5 254.5h0M1153.5 257.5h0M1153.5 258.5h0M1153.5 259.5h0M1153.5 263.5h0M1153.5 264.5h0M1154.5 206.5h0M1154.5 212.5h0M1154.5 263.5h0M1154.5 266.5h0M1154.5 267.5h0M1154.5 268.5h0M1155.5 263.5h0M1155.5 264.5h0M1155.5 269.5h0M1155.5 270.5h0M1155.5 271.5h0M1155.5 273.5h0M1156.5 246.5h0M1156.5 265.5h0M1156.5 266.5h0M1156.5 269.5h0M1156.5 271.5h0M1156.5 272.5h0M1156.5 275.5h0M1157.5 206.5h0M1157.5 265.5h0M1157.5 267.5h0M1157.5 268.5h0M1157.5 270.5h0M1158.5 263.5h0M1158.5 264.5h0M1158.5 265.5h0M1158.5 266.5h0M1158.5 267.5h0M1159.5 206.5h0M1159.5 257.5h0M1159.5 259.5h0M1159.5 260.5h0M1159.5 261.5h0M1159.5 262.5h0M1159.5 263.5h0M1159.5 268.5h0M1159.5 280.5h0M1160.5 256.5h0M1160.5 258.5h0M1160.5 259.5h0M1160.5 261.5h0M1161.5 207.5h0M1161.5 243.5h0M1161.5 256.5h0M1161.5 257.5h0M1161.5 260.5h0M1161.5 264.5h0M1162.5 255.5h0M1162.5 256.5h0M1162.5 260.5h0M1162.5 261.5h0M1162.5 263.5h0M1163.5 257.5h0M1163.5 259.5h0M1163.5 261.5h0M1164.5 207.5h0M1164.5 256.5h0M1164.5 257.5h0M1164.5 258.5h0M1164.5 259.5h0M1164.5 260.5h0M1165.5 255.5h0M1165.5 257.5h0M1165.5 258.5h0M1165.5 259.5h0M1166.5 207.5h0M1166.5 227.5h0M1166.5 253.5h0M1166.5 254.5h0M1166.5 255.5h0M1166.5 263.5h0M1167.5 255.5h0M1167.5 258.5h0M1167.5 260.5h0M1167.5 261.5h0M1167.5 262.5h0M1167.5 263.5h0M1168.5 208.5h0M1168.5 258.5h0M1168.5 259.5h0M1168.5 260.5h0M1168.5 261.5h0M1168.5 265.5h0M1169.5 262.5h0M1169.5 263.5h0M1169.5 264.5h0M1169.5 265.5h0M1170.5 259.5h0M1170.5 260.5h0M1170.5 263.5h0M1170.5 264.5h0M1170.5 265.5h0M1170.5 266.5h0M1170.5 267.5h0M1171.5 208.5h0M1171.5 230.5h0M1171.5 253.5h0M1171.5 256.5h0M1171.5 259.5h0M1171.5 263.5h0M1171.5 266.5h0M1172.5 252.5h0M1172.5 253.5h0M1172.5 254.5h0M1172.5 255.5h0M1172.5 257.5h0M1173.5 208.5h0M1173.5 241.5h0M1173.5 243.5h0M1173.5 245.5h0M1173.5 248.5h0M1173.5 250.5h0M1173.5 251.5h0M1174.5 241.5h0M1174.5 242.5h0M1174.5 245.5h0M1174.5 246.5h0M1175.5 237.5h0M1175.5 238.5h0M1175.5 239.5h0M1175.5 240.5h0M1175.5 241.5h0M1175.5 246.5h0M1176.5 209.5h0M1176.5 232.5h0M1176.5 233.5h0M1176.5 235.5h0M1176.5 237.5h0M1176.5 238.5h0M1176.5 239.5h0M1177.5 232.5h0M1177.5 234.5h0M1177.5 235.5h0M1177.5 237.5h0M1178.5 209.5h0M1178.5 228.5h0M1178.5 232.5h0M1178.5 234.5h0M1178.5 235.5h0M1178.5 237.5h0M1178.5 238.5h0M1179.5 236.5h0M1179.5 238.5h0M1179.5 241.5h0M1179.5 243.5h0M1180.5 209.5h0M1180.5 238.5h0M1180.5 240.5h0M1180.5 243.5h0M1180.5 244.5h0M1181.5 241.5h0M1181.5 243.5h0M1181.5 246.5h0M1181.5 247.5h0M1181.5 248.5h0M1181.5 249.5h0M1182.5 222.5h0M1182.5 246.5h0M1182.5 247.5h0M1182.5 248.5h0M1182.5 249.5h0M1182.5 253.5h0M1183.5 210.5h0M1183.5 247.5h0M1183.5 248.5h0M1183.5 249.5h0M1183.5 250.5h0M1184.5 243.5h0M1184.5 246.5h0M1184.5 248.5h0M1184.5 249.5h0M1184.5 250.5h0M1185.5 210.5h0M1185.5 243.5h0M1185.5 244.5h0M1185.5 245.5h0M1185.5 247.5h0M1185.5 248.5h0M1186.5 238.5h0M1186.5 240.5h0M1186.5 242.5h0M1186.5 245.5h0M1186.5 246.5h0M1186.5 247.5h0M1187.5 210.5h0M1187.5 228.5h0M1187.5 233.5h0M1187.5 236.5h0M1187.5 237.5h0M1187.5 240.5h0M1187.5 241.5h0M1188.5 231.5h0M1188.5 233.5h0M1188.5 234.5h0M1188.5 235.5h0M1189.5 219.5h0M1189.5 227.5h0M1189.5 229.5h0M1189.5 230.5h0M1189.5 231.5h0M1189.5 232.5h0M1189.5 234.5h0M1189.5 235.5h0M1190.5 210.5h0M1190.5 230.5h0M1190.5 231.5h0M1190.5 234.5h0M1190.5 235.5h0M1191.5 229.5h0M1191.5 234.5h0M1191.5 236.5h0M1191.5 237.5h0M1191.5 238.5h0M1192.5 211.5h0M1192.5 230.5h0M1192.5 234.5h0M1192.5 235.5h0M1192.5 236.5h0M1192.5 238.5h0M1192.5 239.5h0M1193.5 235.5h0M1193.5 236.5h0M1193.5 237.5h0M1193.5 238.5h0M1193.5 239.5h0M1193.5 241.5h0M1194.5 211.5h0M1194.5 220.5h0M1194.5 240.5h0M1194.5 241.5h0M1194.5 242.5h0M1194.5 243.5h0M1194.5 246.5h0M1195.5 242.5h0M1195.5 244.5h0M1195.5 245.5h0M1195.5 248.5h0M1196.5 225.5h0M1196.5 246.5h0M1196.5 247.5h0M1196.5 249.5h0M1196.5 250.5h0M1196.5 251.5h0M1197.5 211.5h0M1197.5 243.5h0M1197.5 248.5h0M1197.5 249.5h0M1197.5 250.5h0M1197.5 251.5h0M1198.5 246.5h0M1198.5 248.5h0M1198.5 249.5h0M1198.5 253.5h0M1199.5 212.5h0M1199.5 243.5h0M1199.5 244.5h0M1199.5 246.5h0M1199.5 247.5h0M1199.5 250.5h0M1200.5 243.5h0M1200.5 244.5h0M1201.5 212.5h0M1201.5 220.5h0M1201.5 237.5h0M1201.5 238.5h0M1201.5 239.5h0M1201.5 240.5h0M1201.5 242.5h0M1201.5 244.5h0M1202.5 234.5h0M1202.5 235.5h0M1202.5 236.5h0M1202.5 238.5h0M1202.5 241.5h0M1202.5 242.5h0M1203.5 230.5h0M1203.5 231.5h0M1203.5 232.5h0M1203.5 233.5h0M1203.5 235.5h0M1203.5 238.5h0M1204.5 212.5h0M1204.5 229.5h0M1204.5 231.5h0M1204.5 232.5h0M1204.5 233.5h0M1204.5 236.5h0M1205.5 229.5h0M1205.5 230.5h0M1205.5 231.5h0M1205.5 232.5h0M1205.5 233.5h0M1206.5 212.5h0M1206.5 221.5h0M1206.5 226.5h0M1206.5 227.5h0M1206.5 228.5h0M1206.5 229.5h0M1206.5 233.5h0M1207.5 232.5h0M1207.5 233.5h0M1207.5 234.5h0M1207.5 235.5h0M1207.5 236.5h0M1208.5 208.5h0M1208.5 213.5h0M1208.5 231.5h0M1208.5 234.5h0M1208.5 236.5h0M1208.5 237.5h0M1209.5 235.5h0M1209.5 236.5h0M1209.5 237.5h0M1209.5 239.5h0M1210.5 235.5h0M1210.5 236.5h0M1210.5 239.5h0M1210.5 240.5h0M1210.5 241.5h0M1210.5 242.5h0M1211.5 213.5h0M1211.5 238.5h0M1211.5 239.5h0M1211.5 240.5h0M1211.5 241.5h0M1212.5 238.5h0M1212.5 240.5h0M1212.5 243.5h0M1212.5 245.5h0M1212.5 248.5h0M1213.5 213.5h0M1213.5 220.5h0M1213.5 239.5h0M1213.5 243.5h0M1213.5 244.5h0M1213.5 245.5h0M1214.5 239.5h0M1214.5 241.5h0M1214.5 242.5h0M1214.5 243.5h0M1214.5 245.5h0M1215.5 208.5h0M1215.5 214.5h0M1215.5 237.5h0M1215.5 241.5h0M1215.5 243.5h0M1215.5 245.5h0M1215.5 246.5h0M1216.5 240.5h0M1216.5 241.5h0M1216.5 243.5h0M1217.5 237.5h0M1217.5 238.5h0M1217.5 240.5h0M1217.5 241.5h0M1217.5 243.5h0M1218.5 214.5h0M1218.5 226.5h0M1218.5 233.5h0M1218.5 236.5h0M1218.5 238.5h0M1218.5 240.5h0M1218.5 241.5h0M1218.5 242.5h0M1219.5 231.5h0M1219.5 235.5h0M1219.5 236.5h0M1219.5 240.5h0M1220.5 201.5h0M1220.5 214.5h0M1220.5 233.5h0M1220.5 236.5h0M1220.5 238.5h0M1220.5 239.5h0M1220.5 241.5h0M1221.5 233.5h0M1221.5 234.5h0M1221.5 235.5h0M1221.5 236.5h0M1221.5 237.5h0M1222.5 222.5h0M1222.5 234.5h0M1222.5 235.5h0M1222.5 236.5h0M1222.5 239.5h0M1223.5 215.5h0M1223.5 232.5h0M1223.5 234.5h0M1223.5 236.5h0M1223.5 239.5h0M1223.5 240.5h0M1224.5 234.5h0M1224.5 235.5h0M1224.5 236.5h0M1224.5 238.5h0M1224.5 241.5h0M1225.5 215.5h0M1225.5 230.5h0M1225.5 232.5h0M1225.5 233.5h0M1225.5 235.5h0M1226.5 229.5h0M1226.5 232.5h0M1226.5 233.5h0M1226.5 234.5h0M1226.5 235.5h0M1226.5 237.5h0M1227.5 177.5h0M1227.5 215.5h0M1227.5 232.5h0M1227.5 234.5h0M1227.5 235.5h0M1227.5 236.5h0M1228.5 229.5h0M1228.5 230.5h0M1228.5 231.5h0M1228.5 232.5h0M1228.5 233.5h0M1229.5 223.5h0M1229.5 224.5h0M1229.5 226.5h0M1229.5 228.5h0M1229.5 229.5h0M1229.5 231.5h0M1230.5 216.5h0M1230.5 219.5h0M1230.5 220.5h0M1230.5 221.5h0M1230.5 224.5h0M1230.5 225.5h0M1231.5 213.5h0M1231.5 215.5h0M1231.5 216.5h0M1231.5 218.5h0M1231.5 222.5h0M1232.5 200.5h0M1232.5 207.5h0M1232.5 209.5h0M1232.5 210.5h0M1232.5 213.5h0M1232.5 214.5h0M1232.5 216.5h0M1233.5 204.5h0M1233.5 205.5h0M1233.5 206.5h0M1233.5 209.5h0M1233.5 210.5h0M1233.5 212.5h0M1234.5 197.5h0M1234.5 198.5h0M1234.5 204.5h0M1234.5 207.5h0M1234.5 216.5h0M1235.5 198.5h0M1235.5 199.5h0M1235.5 200.5h0M1235.5 201.5h0M1235.5 202.5h0M1235.5 203.5h0M1236.5 190.5h0M1236.5 197.5h0M1236.5 198.5h0M1236.5 200.5h0M1236.5 202.5h0M1236.5 204.5h0M1237.5 201.5h0M1237.5 202.5h0M1237.5 204.5h0M1237.5 217.5h0M1238.5 201.5h0M1238.5 202.5h0M1238.5 205.5h0M1238.5 207.5h0M1239.5 182.5h0M1239.5 207.5h0M1239.5 208.5h0M1239.5 209.5h0M1239.5 211.5h0M1239.5 217.5h0M1240.5 212.5h0M1240.5 213.5h0M1240.5 214.5h0M1240.5 216.5h0M1240.5 217.5h0M1241.5 196.5h0M1241.5 213.5h0M1241.5 215.5h0M1241.5 217.5h0M1241.5 219.5h0M1242.5 218.5h0M1242.5 220.5h0M1242.5 224.5h0M1243.5 186.5h0M1243.5 217.5h0M1243.5 220.5h0M1243.5 222.5h0M1243.5 224.5h0M1244.5 218.5h0M1244.5 221.5h0M1244.5 222.5h0M1245.5 217.5h0M1245.5 218.5h0M1245.5 219.5h0M1245.5 220.5h0M1245.5 224.5h0M1246.5 196.5h0M1246.5 216.5h0M1246.5 217.5h0M1246.5 218.5h0M1246.5 221.5h0M1247.5 212.5h0M1247.5 213.5h0M1247.5 214.5h0M1248.5 206.5h0M1248.5 207.5h0M1248.5 208.5h0M1248.5 213.5h0M1248.5 218.5h0M1249.5 203.5h0M1249.5 205.5h0M1249.5 206.5h0M1249.5 207.5h0M1249.5 209.5h0M1249.5 211.5h0M1250.5 194.5h0M1250.5 199.5h0M1250.5 201.5h0M1250.5 203.5h0M1250.5 204.5h0M1251.5 203.5h0M1251.5 204.5h0M1251.5 205.5h0M1251.5 206.5h0M1251.5 207.5h0M1251.5 219.5h0M1252.5 201.5h0M1252.5 202.5h0M1252.5 203.5h0M1252.5 204.5h0M1252.5 205.5h0M1253.5 187.5h0M1253.5 204.5h0M1253.5 207.5h0M1253.5 208.5h0M1253.5 219.5h0M1254.5 199.5h0M1254.5 203.5h0M1254.5 207.5h0M1254.5 209.5h0M1254.5 212.5h0M1255.5 207.5h0M1255.5 208.5h0M1255.5 210.5h0M1255.5 219.5h0M1256.5 182.5h0M1256.5 207.5h0M1256.5 208.5h0M1256.5 210.5h0M1256.5 211.5h0M1256.5 212.5h0M1256.5 213.5h0M1256.5 214.5h0M1257.5 211.5h0M1257.5 212.5h0M1257.5 214.5h0M1257.5 215.5h0M1257.5 216.5h0M1258.5 212.5h0M1258.5 213.5h0M1258.5 215.5h0M1258.5 218.5h0M1258.5 219.5h0M1259.5 214.5h0M1259.5 215.5h0M1259.5 216.5h0M1259.5 217.5h0M1259.5 218.5h0M1260.5 180.5h0M1260.5 212.5h0M1260.5 214.5h0M1260.5 216.5h0M1260.5 220.5h0M1261.5 212.5h0M1261.5 214.5h0M1261.5 215.5h0M1261.5 216.5h0M1261.5 217.5h0M1262.5 172.5h0M1262.5 207.5h0M1262.5 210.5h0M1262.5 211.5h0M1262.5 212.5h0M1262.5 213.5h0M1262.5 214.5h0M1262.5 220.5h0M1263.5 207.5h0M1263.5 208.5h0M1263.5 212.5h0M1264.5 202.5h0M1264.5 203.5h0M1264.5 204.5h0M1264.5 205.5h0M1264.5 207.5h0M1265.5 198.5h0M1265.5 200.5h0M1265.5 201.5h0M1265.5 203.5h0M1265.5 205.5h0M1265.5 220.5h0M1266.5 193.5h0M1266.5 197.5h0M1266.5 198.5h0M1266.5 201.5h0M1266.5 204.5h0M1267.5 171.5h0M1267.5 193.5h0M1267.5 194.5h0M1267.5 196.5h0M1267.5 197.5h0M1267.5 198.5h0M1267.5 199.5h0M1267.5 221.5h0M1268.5 192.5h0M1268.5 193.5h0M1268.5 194.5h0M1268.5 195.5h0M1269.5 190.5h0M1269.5 193.5h0M1269.5 194.5h0M1269.5 196.5h0M1270.5 174.5h0M1270.5 193.5h0M1270.5 194.5h0M1270.5 195.5h0M1270.5 197.5h0M1270.5 221.5h0M1271.5 197.5h0M1271.5 198.5h0M1271.5 199.5h0M1272.5 183.5h0M1272.5 196.5h0M1272.5 200.5h0M1272.5 201.5h0M1272.5 202.5h0M1272.5 205.5h0M1272.5 221.5h0M1273.5 201.5h0M1273.5 202.5h0M1273.5 203.5h0M1274.5 176.5h0M1274.5 202.5h0M1274.5 204.5h0M1274.5 205.5h0M1274.5 207.5h0M1274.5 222.5h0M1275.5 203.5h0M1275.5 205.5h0M1275.5 206.5h0M1275.5 207.5h0M1275.5 208.5h0M1276.5 172.5h0M1276.5 204.5h0M1276.5 206.5h0M1276.5 208.5h0M1276.5 209.5h0M1276.5 210.5h0M1277.5 203.5h0M1277.5 204.5h0M1277.5 205.5h0M1277.5 222.5h0M1278.5 200.5h0M1278.5 201.5h0M1278.5 203.5h0M1278.5 204.5h0M1278.5 208.5h0M1279.5 177.5h0M1279.5 195.5h0M1279.5 196.5h0M1279.5 197.5h0M1279.5 198.5h0M1279.5 204.5h0M1279.5 222.5h0M1280.5 196.5h0M1280.5 197.5h0M1280.5 198.5h0M1280.5 199.5h0M1280.5 200.5h0M1280.5 202.5h0M1281.5 165.5h0M1281.5 191.5h0M1281.5 192.5h0M1281.5 193.5h0M1281.5 194.5h0M1281.5 195.5h0M1281.5 222.5h0M1282.5 187.5h0M1282.5 190.5h0M1282.5 191.5h0M1282.5 192.5h0M1283.5 184.5h0M1283.5 185.5h0M1283.5 188.5h0M1283.5 190.5h0M1283.5 191.5h0M1283.5 192.5h0M1284.5 187.5h0M1284.5 188.5h0M1284.5 189.5h0M1284.5 190.5h0M1284.5 192.5h0M1284.5 223.5h0M1285.5 186.5h0M1285.5 187.5h0M1285.5 188.5h0M1285.5 190.5h0M1285.5 192.5h0M1286.5 157.5h0M1286.5 185.5h0M1286.5 186.5h0M1286.5 187.5h0M1286.5 188.5h0M1286.5 191.5h0M1286.5 223.5h0M1287.5 186.5h0M1287.5 187.5h0M1287.5 189.5h0M1287.5 190.5h0M1287.5 192.5h0M1288.5 170.5h0M1288.5 190.5h0M1288.5 191.5h0M1288.5 192.5h0M1288.5 193.5h0M1288.5 223.5h0M1289.5 189.5h0M1289.5 190.5h0M1289.5 191.5h0M1289.5 194.5h0M1289.5 197.5h0M1290.5 157.5h0M1290.5 189.5h0M1290.5 191.5h0M1290.5 192.5h0M1290.5 194.5h0M1290.5 196.5h0M1291.5 194.5h0M1291.5 195.5h0M1291.5 196.5h0M1291.5 197.5h0M1291.5 198.5h0M1291.5 224.5h0M1292.5 192.5h0M1292.5 194.5h0M1292.5 195.5h0M1292.5 196.5h0M1293.5 162.5h0M1293.5 192.5h0M1293.5 193.5h0M1293.5 194.5h0M1293.5 197.5h0M1293.5 224.5h0M1294.5 191.5h0M1294.5 194.5h0M1294.5 195.5h0M1295.5 155.5h0M1295.5 188.5h0M1295.5 191.5h0M1295.5 194.5h0M1295.5 224.5h0M1296.5 183.5h0M1296.5 187.5h0M1296.5 188.5h0M1296.5 191.5h0M1296.5 193.5h0M1297.5 164.5h0M1297.5 184.5h0M1297.5 186.5h0M1297.5 187.5h0M1297.5 188.5h0M1297.5 189.5h0M1297.5 192.5h0M1298.5 184.5h0M1298.5 185.5h0M1298.5 186.5h0M1298.5 187.5h0M1298.5 224.5h0M1299.5 183.5h0M1299.5 184.5h0M1299.5 185.5h0M1299.5 187.5h0M1300.5 167.5h0M1300.5 182.5h0M1300.5 183.5h0M1300.5 184.5h0M1300.5 186.5h0M1300.5 187.5h0M1300.5 188.5h0M1300.5 225.5h0M1301.5 178.5h0M1301.5 181.5h0M1301.5 183.5h0M1301.5 185.5h0M1301.5 187.5h0M1302.5 144.5h0M1302.5 180.5h0M1302.5 182.5h0M1302.5 183.5h0M1302.5 184.5h0M1302.5 186.5h0M1302.5 225.5h0M1303.5 180.5h0M1303.5 183.5h0M1303.5 184.5h0M1303.5 185.5h0M1303.5 186.5h0M1304.5 156.5h0M1304.5 183.5h0M1304.5 184.5h0M1304.5 186.5h0M1304.5 187.5h0M1304.5 189.5h0M1305.5 186.5h0M1305.5 188.5h0M1305.5 189.5h0M1305.5 225.5h0M1306.5 187.5h0M1306.5 188.5h0M1306.5 189.5h0M1306.5 190.5h0M1306.5 191.5h0M1306.5 195.5h0M1307.5 155.5h0M1307.5 189.5h0M1307.5 190.5h0M1307.5 191.5h0M1307.5 192.5h0M1307.5 194.5h0M1307.5 225.5h0M1308.5 172.5h0M1308.5 184.5h0M1308.5 185.5h0M1308.5 186.5h0M1308.5 187.5h0M1308.5 189.5h0M1308.5 192.5h0M1309.5 143.5h0M1309.5 183.5h0M1309.5 186.5h0M1309.5 187.5h0M1309.5 188.5h0M1309.5 225.5h0M1310.5 182.5h0M1310.5 184.5h0M1310.5 185.5h0M1310.5 187.5h0M1311.5 163.5h0M1311.5 178.5h0M1311.5 179.5h0M1311.5 180.5h0M1311.5 181.5h0M1311.5 185.5h0M1312.5 176.5h0M1312.5 177.5h0M1312.5 178.5h0M1312.5 180.5h0M1312.5 181.5h0M1312.5 226.5h0M1313.5 171.5h0M1313.5 173.5h0M1313.5 174.5h0M1313.5 175.5h0M1314.5 142.5h0M1314.5 170.5h0M1314.5 171.5h0M1314.5 172.5h0M1314.5 174.5h0M1314.5 226.5h0M1315.5 167.5h0M1315.5 168.5h0M1315.5 170.5h0M1315.5 171.5h0M1315.5 172.5h0M1316.5 138.5h0M1316.5 166.5h0M1316.5 167.5h0M1316.5 168.5h0M1316.5 169.5h0M1316.5 170.5h0M1316.5 173.5h0M1317.5 168.5h0M1317.5 170.5h0M1317.5 173.5h0M1317.5 174.5h0M1317.5 226.5h0M1318.5 169.5h0M1318.5 172.5h0M1318.5 173.5h0M1318.5 175.5h0M1319.5 151.5h0M1319.5 173.5h0M1319.5 176.5h0M1319.5 177.5h0M1319.5 178.5h0M1319.5 226.5h0M1320.5 174.5h0M1320.5 176.5h0M1320.5 177.5h0M1320.5 178.5h0M1320.5 180.5h0M1321.5 173.5h0M1321.5 175.5h0M1321.5 177.5h0M1321.5 178.5h0M1321.5 179.5h0M1321.5 226.5h0M1322.5 146.5h0M1322.5 175.5h0M1322.5 176.5h0M1322.5 177.5h0M1322.5 178.5h0M1322.5 181.5h0M1323.5 172.5h0M1323.5 174.5h0M1323.5 175.5h0M1323.5 176.5h0M1323.5 180.5h0M1324.5 171.5h0M1324.5 172.5h0M1324.5 173.5h0M1324.5 176.5h0M1324.5 227.5h0M1325.5 167.5h0M1325.5 170.5h0M1325.5 171.5h0M1325.5 172.5h0M1326.5 134.5h0M1326.5 167.5h0M1326.5 168.5h0M1326.5 169.5h0M1326.5 171.5h0M1326.5 227.5h0M1327.5 165.5h0M1327.5 168.5h0M1327.5 169.5h0M1327.5 170.5h0M1327.5 171.5h0M1328.5 144.5h0M1328.5 166.5h0M1328.5 167.5h0M1328.5 168.5h0M1328.5 170.5h0M1328.5 227.5h0M1329.5 161.5h0M1329.5 163.5h0M1329.5 164.5h0M1329.5 165.5h0M1329.5 169.5h0M1330.5 121.5h0M1330.5 145.5h0M1330.5 147.5h0M1330.5 148.5h0M1330.5 156.5h0M1330.5 157.5h0M1330.5 160.5h0M1331.5 133.5h0M1331.5 134.5h0M1331.5 135.5h0M1331.5 136.5h0M1331.5 139.5h0M1331.5 143.5h0M1331.5 227.5h0M1332.5 129.5h0M1332.5 133.5h0M1332.5 135.5h0M1332.5 136.5h0M1332.5 137.5h0M1332.5 138.5h0M1332.5 144.5h0M1332.5 145.5h0M1333.5 145.5h0M1333.5 150.5h0M1333.5 153.5h0M1333.5 158.5h0M1333.5 159.5h0M1333.5 161.5h0M1333.5 227.5h0M1334.5 164.5h0M1334.5 165.5h0M1334.5 166.5h0M1334.5 169.5h0M1335.5 168.5h0M1335.5 169.5h0M1335.5 171.5h0M1335.5 172.5h0M1335.5 175.5h0M1335.5 228.5h0M1336.5 166.5h0M1336.5 170.5h0M1336.5 171.5h0M1336.5 172.5h0M1337.5 119.5h0M1337.5 165.5h0M1337.5 168.5h0M1337.5 174.5h0M1337.5 175.5h0M1337.5 176.5h0M1338.5 166.5h0M1338.5 171.5h0M1338.5 173.5h0M1338.5 174.5h0M1338.5 176.5h0M1338.5 228.5h0M1339.5 172.5h0M1339.5 173.5h0M1339.5 174.5h0M1339.5 175.5h0M1339.5 176.5h0M1339.5 177.5h0M1340.5 150.5h0M1340.5 173.5h0M1340.5 175.5h0M1340.5 176.5h0M1340.5 178.5h0M1340.5 228.5h0M1341.5 175.5h0M1341.5 176.5h0M1341.5 178.5h0M1341.5 179.5h0M1341.5 180.5h0M1342.5 134.5h0M1342.5 175.5h0M1342.5 178.5h0M1342.5 179.5h0M1342.5 180.5h0M1342.5 181.5h0M1342.5 228.5h0M1343.5 177.5h0M1343.5 178.5h0M1343.5 179.5h0M1343.5 180.5h0M1343.5 181.5h0M1343.5 183.5h0M1344.5 130.5h0M1344.5 181.5h0M1344.5 183.5h0M1344.5 185.5h0M1344.5 187.5h0M1345.5 178.5h0M1345.5 180.5h0M1345.5 184.5h0M1345.5 228.5h0M1346.5 175.5h0M1346.5 177.5h0M1346.5 179.5h0M1346.5 180.5h0M1347.5 139.5h0M1347.5 171.5h0M1347.5 172.5h0M1347.5 173.5h0M1347.5 175.5h0M1347.5 178.5h0M1347.5 228.5h0M1348.5 163.5h0M1348.5 166.5h0M1348.5 167.5h0M1348.5 170.5h0M1348.5 171.5h0M1349.5 135.5h0M1349.5 151.5h0M1349.5 154.5h0M1349.5 155.5h0M1349.5 158.5h0M1349.5 160.5h0M1349.5 229.5h0M1350.5 154.5h0M1350.5 155.5h0M1350.5 156.5h0M1350.5 159.5h0M1351.5 125.5h0M1351.5 145.5h0M1351.5 152.5h0M1351.5 153.5h0M1351.5 154.5h0M1351.5 155.5h0M1351.5 157.5h0M1352.5 144.5h0M1352.5 147.5h0M1352.5 148.5h0M1352.5 151.5h0M1352.5 153.5h0M1352.5 157.5h0M1352.5 229.5h0M1353.5 148.5h0M1353.5 152.5h0M1353.5 154.5h0M1353.5 156.5h0M1353.5 158.5h0M1354.5 148.5h0M1354.5 149.5h0M1354.5 151.5h0M1354.5 152.5h0M1354.5 153.5h0M1354.5 158.5h0M1354.5 229.5h0M1355.5 149.5h0M1355.5 150.5h0M1355.5 151.5h0M1355.5 152.5h0M1355.5 156.5h0M1355.5 157.5h0M1356.5 101.5h0M1356.5 148.5h0M1356.5 149.5h0M1356.5 150.5h0M1356.5 151.5h0M1356.5 152.5h0M1356.5 154.5h0M1356.5 229.5h0M1357.5 147.5h0M1357.5 149.5h0M1357.5 150.5h0M1357.5 152.5h0M1357.5 153.5h0M1357.5 155.5h0M1358.5 135.5h0M1358.5 143.5h0M1358.5 145.5h0M1358.5 147.5h0M1358.5 148.5h0M1358.5 149.5h0M1358.5 151.5h0M1359.5 142.5h0M1359.5 144.5h0M1359.5 145.5h0M1359.5 147.5h0M1359.5 149.5h0M1359.5 150.5h0M1359.5 153.5h0M1359.5 229.5h0M1360.5 142.5h0M1360.5 143.5h0M1360.5 144.5h0M1360.5 147.5h0M1360.5 148.5h0M1361.5 129.5h0M1361.5 141.5h0M1361.5 142.5h0M1361.5 144.5h0M1361.5 145.5h0M1361.5 152.5h0M1361.5 229.5h0M1362.5 135.5h0M1362.5 139.5h0M1362.5 140.5h0M1362.5 142.5h0M1362.5 144.5h0M1362.5 146.5h0M1363.5 125.5h0M1363.5 138.5h0M1363.5 140.5h0M1363.5 142.5h0M1363.5 143.5h0M1363.5 144.5h0M1364.5 134.5h0M1364.5 135.5h0M1364.5 138.5h0M1364.5 139.5h0M1364.5 140.5h0M1364.5 142.5h0M1364.5 229.5h0M1365.5 116.5h0M1365.5 137.5h0M1365.5 139.5h0M1365.5 140.5h0M1365.5 144.5h0M1366.5 141.5h0M1366.5 145.5h0M1366.5 146.5h0M1366.5 148.5h0M1366.5 229.5h0M1367.5 142.5h0M1367.5 143.5h0M1367.5 144.5h0M1367.5 146.5h0M1367.5 147.5h0M1367.5 148.5h0M1368.5 117.5h0M1368.5 142.5h0M1368.5 146.5h0M1368.5 148.5h0M1368.5 149.5h0M1368.5 150.5h0M1368.5 151.5h0M1368.5 229.5h0M1369.5 143.5h0M1369.5 145.5h0M1369.5 146.5h0M1369.5 147.5h0M1369.5 148.5h0M1369.5 152.5h0M1370.5 130.5h0M1370.5 147.5h0M1370.5 149.5h0M1370.5 151.5h0M1370.5 152.5h0M1370.5 153.5h0M1370.5 154.5h0M1371.5 145.5h0M1371.5 147.5h0M1371.5 148.5h0M1371.5 149.5h0M1371.5 151.5h0M1371.5 230.5h0M1372.5 142.5h0M1372.5 143.5h0M1372.5 146.5h0M1372.5 147.5h0M1372.5 148.5h0M1372.5 150.5h0M1373.5 120.5h0M1373.5 146.5h0M1373.5 148.5h0M1373.5 149.5h0M1373.5 154.5h0M1373.5 230.5h0M1374.5 139.5h0M1374.5 143.5h0M1374.5 146.5h0M1374.5 148.5h0M1374.5 150.5h0M1375.5 133.5h0M1375.5 141.5h0M1375.5 143.5h0M1375.5 144.5h0M1375.5 147.5h0M1375.5 148.5h0M1375.5 153.5h0M1375.5 230.5h0M1376.5 142.5h0M1376.5 143.5h0M1376.5 145.5h0M1376.5 146.5h0M1377.5 109.5h0M1377.5 141.5h0M1377.5 144.5h0M1377.5 145.5h0M1377.5 147.5h0M1378.5 140.5h0M1378.5 142.5h0M1378.5 144.5h0M1378.5 146.5h0M1378.5 150.5h0M1378.5 230.5h0M1379.5 141.5h0M1379.5 143.5h0M1379.5 144.5h0M1379.5 147.5h0M1379.5 148.5h0M1379.5 151.5h0M1380.5 131.5h0M1380.5 147.5h0M1380.5 148.5h0M1380.5 149.5h0M1380.5 150.5h0M1380.5 152.5h0M1380.5 230.5h0M1381.5 152.5h0M1381.5 153.5h0M1381.5 154.5h0M1381.5 155.5h0M1381.5 156.5h0M1382.5 150.5h0M1382.5 154.5h0M1382.5 156.5h0M1382.5 158.5h0M1382.5 159.5h0M1383.5 131.5h0M1383.5 156.5h0M1383.5 158.5h0M1383.5 160.5h0M1383.5 164.5h0M1383.5 165.5h0M1384.5 160.5h0M1384.5 165.5h0M1384.5 169.5h0M1384.5 171.5h0" fill="none" stroke="#0000ff" stroke-width="5.56" stroke-linecap="round"/>
</g>
<rect x="200.5" y="60.5" width="1240.0" height="385.0" fill="none" stroke="#000" stroke-width="1.1"/>
<path d="M243.5 445.5v4.9M469.5 445.5v4.9M694.5 445.5v4.9M920.5 445.5v4.9M1145.5 445.5v4.9M1371.5 445.5v4.9M200.5 94.5h-4.9M200.5 155.5h-4.9M200.5 217.5h-4.9M200.5 278.5h-4.9M200.5 340.5h-4.9M200.5 401.5h-4.9" stroke="#000" stroke-width="1.1" fill="none"/>
<g font-family="'DejaVu Sans', 'Liberation Sans', sans-serif" font-size="13.89px" fill="#000" style="font-variant-ligatures:none;font-feature-settings:&quot;liga&quot; 0,&quot;clig&quot; 0;font-kerning:none"><text x="243.2" y="466.3" text-anchor="middle" letter-spacing="-0.3">1354</text><text x="469.2" y="466.3" text-anchor="middle" letter-spacing="-0.3">1356</text><text x="694.2" y="466.3" text-anchor="middle" letter-spacing="-0.3">1358</text><text x="920.2" y="466.3" text-anchor="middle" letter-spacing="-0.3">1360</text><text x="1145.2" y="466.3" text-anchor="middle" letter-spacing="-0.3">1362</text><text x="1371.2" y="466.3" text-anchor="middle" letter-spacing="-0.3">1364</text><text x="189.6" y="98.7" text-anchor="end" letter-spacing="-0.3">40</text><text x="190.2" y="161.1" text-anchor="end" letter-spacing="-0.3">20</text><text x="190.5" y="221.5" text-anchor="end" letter-spacing="-0.3">0</text><text x="190.1" y="283.9" text-anchor="end" letter-spacing="-0.3">−20</text><text x="190.1" y="345.3" text-anchor="end" letter-spacing="-0.3">−40</text><text x="189.0" y="406.7" text-anchor="end" letter-spacing="-0.3">−60</text><text x="819.6" y="484.6" text-anchor="middle">Truncated Barycentric Julian Date</text><text transform="translate(150.6 253.8) rotate(-90)" text-anchor="middle">Normalized PDC flux</text></g>
</svg>
</body></html>
